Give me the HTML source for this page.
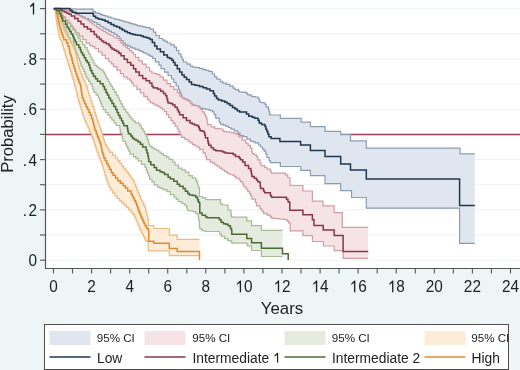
<!DOCTYPE html>
<html><head><meta charset="utf-8"><style>
html,body{margin:0;padding:0;}
body{width:520px;height:370px;overflow:hidden;background:#edf5f7;}
svg{display:block;}
.t{font-family:"Liberation Sans",sans-serif;font-size:16.5px;fill:#222;}
</style></head><body>
<svg width="520" height="370" viewBox="0 0 520 370">
<defs><filter id="b" x="-5%" y="-5%" width="110%" height="110%"><feGaussianBlur stdDeviation="0.45"/></filter></defs>
<rect x="0" y="0" width="520" height="370" fill="#edf5f7"/>
<rect x="45" y="0" width="475" height="268" fill="#ffffff"/>
<g filter="url(#b)">
<line x1="46" y1="260.2" x2="520" y2="260.2" stroke="#eef3f4" stroke-width="1"/>
<line x1="46" y1="235.0" x2="520" y2="235.0" stroke="#eef3f4" stroke-width="1"/>
<line x1="46" y1="209.9" x2="520" y2="209.9" stroke="#eef3f4" stroke-width="1"/>
<line x1="46" y1="184.7" x2="520" y2="184.7" stroke="#eef3f4" stroke-width="1"/>
<line x1="46" y1="159.6" x2="520" y2="159.6" stroke="#eef3f4" stroke-width="1"/>
<line x1="46" y1="134.4" x2="520" y2="134.4" stroke="#eef3f4" stroke-width="1"/>
<line x1="46" y1="109.2" x2="520" y2="109.2" stroke="#eef3f4" stroke-width="1"/>
<line x1="46" y1="84.1" x2="520" y2="84.1" stroke="#eef3f4" stroke-width="1"/>
<line x1="46" y1="58.9" x2="520" y2="58.9" stroke="#eef3f4" stroke-width="1"/>
<line x1="46" y1="33.8" x2="520" y2="33.8" stroke="#eef3f4" stroke-width="1"/>
<line x1="46" y1="8.6" x2="520" y2="8.6" stroke="#eef3f4" stroke-width="1"/>
<line x1="46" y1="134.4" x2="520" y2="134.4" stroke="#9e3d5c" stroke-width="1.5"/>
<path d="M54.0,8.5 54.0,8.5 56.6,8.5 56.6,8.5 59.2,8.5 59.2,8.5 61.9,8.5 61.9,8.6 64.5,8.6 64.5,8.6 67.1,8.6 67.1,8.6 69.7,8.6 69.7,8.6 69.7,8.9 73.5,8.9 73.5,9.2 93.1,9.2 93.1,10.5 93.1,11.6 95.4,11.6 95.4,12.6 95.4,12.9 97.7,12.9 97.7,13.4 100.0,13.4 100.0,13.7 100.0,14.3 102.4,14.3 102.4,14.9 102.4,15.3 105.2,15.3 105.2,16.2 108.1,16.2 108.1,16.7 108.1,17.1 111.0,17.1 111.0,18.0 113.9,18.0 113.9,18.4 113.9,18.8 116.6,18.8 116.6,19.5 119.3,19.5 119.3,19.9 119.3,20.2 121.6,20.2 121.6,20.9 123.8,20.9 123.8,21.6 126.1,21.6 126.1,21.9 126.1,22.2 128.3,22.2 128.3,22.9 130.6,22.9 130.6,23.6 132.8,23.6 132.8,23.9 132.8,24.2 135.1,24.2 135.1,24.9 137.3,24.9 137.3,25.6 139.6,25.6 139.6,25.9 139.6,26.1 141.9,26.1 141.9,26.6 144.1,26.6 144.1,27.1 146.4,27.1 146.4,27.3 146.4,27.7 150.0,27.7 150.0,28.1 150.0,29.2 153.5,29.2 153.5,30.4 153.5,32.1 155.8,32.1 155.8,33.8 155.8,35.5 159.2,35.5 159.2,37.3 159.2,38.5 162.7,38.5 162.7,39.6 162.7,40.2 165.0,40.2 165.0,41.3 167.3,41.3 167.3,41.9 167.3,43.0 170.8,43.0 170.8,44.2 170.8,44.8 174.2,44.8 174.2,45.4 174.2,47.1 176.5,47.1 176.5,48.8 176.5,50.5 178.8,50.5 178.8,52.3 178.8,54.0 181.1,54.0 181.1,55.8 181.1,57.0 182.3,57.0 182.3,59.5 183.5,59.5 183.5,60.8 183.5,62.0 186.9,62.0 186.9,63.1 186.9,64.2 190.4,64.2 190.4,65.4 190.4,66.2 192.7,66.2 192.7,67.1 192.7,67.2 195.0,67.2 195.0,67.4 197.3,67.4 197.3,67.6 199.6,67.6 199.6,67.7 199.6,68.6 203.1,68.6 203.1,69.4 203.1,69.7 205.9,69.7 205.9,70.3 208.8,70.3 208.8,70.6 208.8,71.4 212.3,71.4 212.3,72.3 212.3,74.0 214.6,74.0 214.6,75.8 214.6,76.9 216.9,76.9 216.9,78.1 216.9,79.2 220.4,79.2 220.4,80.4 220.4,81.6 222.7,81.6 222.7,82.7 222.7,83.2 226.1,83.2 226.1,83.8 226.1,84.4 229.6,84.4 229.6,85.0 229.6,86.2 233.1,86.2 233.1,87.3 233.1,88.2 235.0,88.2 235.0,89.0 235.0,89.6 238.5,89.6 238.5,90.2 238.5,91.1 239.6,91.1 239.6,91.9 239.6,92.0 241.9,92.0 241.9,92.2 244.2,92.2 244.2,92.4 246.5,92.4 246.5,92.5 246.5,93.3 247.7,93.3 247.7,94.2 247.7,94.8 251.1,94.8 251.1,95.4 251.1,96.0 252.3,96.0 252.3,96.5 252.3,96.7 255.2,96.7 255.2,97.0 258.1,97.0 258.1,97.1 258.1,98.5 259.2,98.5 259.2,100.0 259.2,101.2 260.4,101.2 260.4,102.3 260.4,102.5 262.7,102.5 262.7,102.8 265.0,102.8 265.0,102.9 265.0,104.3 266.1,104.3 266.1,105.8 266.1,106.9 268.4,106.9 268.4,108.1 268.4,109.2 269.0,109.2 269.0,111.6 269.6,111.6 269.6,112.7 269.6,113.8 270.2,113.8 270.2,115.0 280.3,115.0 280.3,118.4 301.2,118.4 301.2,122.2 310.4,122.2 310.4,126.6 325.0,126.6 325.0,131.4 340.7,131.4 340.7,134.7 350.5,134.7 350.5,140.8 366.3,140.8 366.3,148.1 460.0,148.1 460.0,153.9 474.8,153.9 474.8,243.4 474.8,243.4 459.6,243.4 459.6,208.2 366.3,208.2 366.3,197.5 351.5,197.5 351.5,190.6 340.7,190.6 340.7,183.7 325.0,183.7 325.0,175.6 310.4,175.6 310.4,170.3 300.8,170.3 300.8,166.5 280.3,166.5 280.3,162.7 270.4,162.7 270.4,160.9 269.2,160.9 269.2,159.2 269.2,157.5 266.9,157.5 266.9,155.8 266.9,154.1 265.8,154.1 265.8,152.3 265.8,151.2 264.1,151.2 264.1,149.1 262.5,149.1 262.5,148.0 262.5,147.0 260.5,147.0 260.5,145.0 258.5,145.0 258.5,144.0 258.5,142.9 255.0,142.9 255.0,141.9 255.0,141.6 252.7,141.6 252.7,141.1 250.4,141.1 250.4,140.8 250.4,139.1 246.9,139.1 246.9,137.3 246.9,136.7 243.4,136.7 243.4,136.1 243.4,135.6 240.0,135.6 240.0,135.0 240.0,133.2 237.7,133.2 237.7,131.5 237.7,130.9 234.2,130.9 234.2,130.4 234.2,129.2 230.8,129.2 230.8,128.1 230.8,127.5 228.4,127.5 228.4,126.4 226.1,126.4 226.1,125.8 226.1,125.2 223.2,125.2 223.2,124.1 220.4,124.1 220.4,123.5 220.4,121.8 219.2,121.8 219.2,120.0 219.2,118.2 215.7,118.2 215.7,116.3 215.7,114.7 214.1,114.7 214.1,113.1 214.1,111.9 212.4,111.9 212.4,110.7 212.4,110.3 209.2,110.3 209.2,109.4 206.0,109.4 206.0,109.0 206.0,108.8 203.2,108.8 203.2,108.4 200.3,108.4 200.3,108.2 200.3,107.0 198.7,107.0 198.7,105.8 198.7,105.6 195.4,105.6 195.4,105.2 192.2,105.2 192.2,105.0 192.2,103.3 190.5,103.3 190.5,101.7 190.5,101.1 188.5,101.1 188.5,99.9 186.5,99.9 186.5,99.3 186.5,98.9 184.4,98.9 184.4,98.1 182.4,98.1 182.4,97.7 182.4,96.3 181.3,96.3 181.3,93.4 180.2,93.4 180.2,92.0 180.2,90.9 179.3,90.9 179.3,88.8 178.4,88.8 178.4,87.7 178.4,86.0 176.1,86.0 176.1,84.2 176.1,82.5 173.8,82.5 173.8,80.8 173.8,79.0 171.5,79.0 171.5,77.3 171.5,75.5 168.1,75.5 168.1,73.8 168.1,72.1 164.6,72.1 164.6,70.4 164.6,68.7 161.1,68.7 161.1,66.9 161.1,65.2 158.8,65.2 158.8,63.5 158.8,61.8 155.4,61.8 155.4,60.0 155.4,58.5 152.7,58.5 152.7,56.9 152.7,56.3 150.4,56.3 150.4,55.2 148.1,55.2 148.1,54.6 148.1,54.0 145.8,54.0 145.8,52.9 143.4,52.9 143.4,52.3 143.4,51.7 141.1,51.7 141.1,50.6 138.8,50.6 138.8,50.0 138.8,49.4 135.0,49.4 135.0,48.8 135.0,48.2 132.5,48.2 132.5,47.1 130.0,47.1 130.0,46.5 130.0,45.9 127.7,45.9 127.7,44.8 125.3,44.8 125.3,44.3 125.3,43.1 123.2,43.1 123.2,40.7 121.0,40.7 121.0,39.5 121.0,38.4 119.0,38.4 119.0,36.3 117.0,36.3 117.0,35.2 117.0,34.4 114.2,34.4 114.2,32.6 111.4,32.6 111.4,31.8 111.4,31.1 108.6,31.1 108.6,29.7 105.8,29.7 105.8,29.0 105.8,28.2 102.9,28.2 102.9,26.5 100.0,26.5 100.0,25.7 100.0,24.4 97.0,24.4 97.0,23.0 97.0,22.5 94.3,22.5 94.3,22.0 94.3,21.5 92.0,21.5 92.0,21.0 92.0,20.0 88.5,20.0 88.5,19.0 88.5,18.5 85.0,18.5 85.0,18.0 85.0,17.1 81.6,17.1 81.6,16.1 81.6,15.6 79.3,15.6 79.3,14.5 77.0,14.5 77.0,14.0 77.0,12.9 73.5,12.9 73.5,11.8 73.5,11.4 71.4,11.4 71.4,11.1 71.4,9.8 70.0,9.8 70.0,8.6 70.0,8.6 67.3,8.6 67.3,8.6 64.7,8.6 64.7,8.6 62.0,8.6 62.0,8.5 59.3,8.5 59.3,8.5 56.7,8.5 56.7,8.5 54.0,8.5 54.0,8.5Z" fill="#e0e6ef"/>
<path d="M54.0,8.5 54.0,8.5 56.7,8.5 56.7,8.5 59.3,8.5 59.3,8.6 62.0,8.6 62.0,8.6 62.0,9.1 65.0,9.1 65.0,9.5 65.0,9.8 67.0,9.8 67.0,10.6 68.9,10.6 68.9,10.9 68.9,11.3 71.2,11.3 71.2,12.2 73.5,12.2 73.5,12.6 73.5,13.2 75.8,13.2 75.8,14.3 78.1,14.3 78.1,14.9 78.1,15.5 80.4,15.5 80.4,16.6 82.8,16.6 82.8,17.2 82.8,17.8 85.1,17.8 85.1,18.9 87.4,18.9 87.4,19.5 87.4,20.4 89.7,20.4 89.7,22.1 92.0,22.1 92.0,23.0 92.0,23.9 94.3,23.9 94.3,25.6 96.6,25.6 96.6,26.5 96.6,27.2 98.9,27.2 98.9,28.8 101.3,28.8 101.3,29.5 101.3,30.1 103.5,30.1 103.5,31.4 105.8,31.4 105.8,32.8 108.0,32.8 108.0,33.4 108.0,34.1 110.7,34.1 110.7,35.5 113.4,35.5 113.4,36.2 113.4,37.0 116.1,37.0 116.1,38.5 118.8,38.5 118.8,39.2 118.8,40.5 120.9,40.5 120.9,43.2 123.1,43.2 123.1,44.5 123.1,45.3 125.2,45.3 125.2,46.9 127.4,46.9 127.4,47.7 127.4,48.7 129.6,48.7 129.6,50.6 131.8,50.6 131.8,51.5 131.8,52.5 133.6,52.5 133.6,54.5 135.4,54.5 135.4,55.5 135.4,57.4 138.8,57.4 138.8,59.2 138.8,60.9 142.3,60.9 142.3,62.5 142.3,64.2 146.1,64.2 146.1,65.8 146.1,67.5 149.6,67.5 149.6,69.2 149.6,71.0 151.9,71.0 151.9,72.7 151.9,73.0 154.2,73.0 154.2,73.5 156.5,73.5 156.5,73.8 156.5,74.4 160.0,74.4 160.0,75.0 160.0,76.8 163.4,76.8 163.4,78.5 163.4,80.2 166.9,80.2 166.9,81.9 166.9,83.7 170.4,83.7 170.4,85.4 170.4,86.6 173.8,86.6 173.8,87.7 173.8,89.4 177.3,89.4 177.3,91.1 177.3,92.7 179.6,92.7 179.6,94.2 179.6,96.0 182.4,96.0 182.4,97.7 182.4,98.1 184.4,98.1 184.4,98.9 186.5,98.9 186.5,99.3 186.5,99.9 188.5,99.9 188.5,101.1 190.5,101.1 190.5,101.7 190.5,103.3 192.2,103.3 192.2,105.0 192.2,105.2 195.4,105.2 195.4,105.6 198.7,105.6 198.7,105.8 198.7,107.0 200.3,107.0 200.3,108.2 200.3,109.4 202.3,109.4 202.3,111.9 204.3,111.9 204.3,113.1 204.3,114.3 205.6,114.3 205.6,116.8 206.8,116.8 206.8,118.0 206.8,119.4 207.2,119.4 207.2,122.1 207.7,122.1 207.7,123.5 207.7,124.7 211.1,124.7 211.1,125.8 211.1,126.9 214.6,126.9 214.6,128.1 214.6,128.3 217.3,128.3 217.3,128.7 220.0,128.7 220.0,129.0 222.7,129.0 222.7,129.2 222.7,130.3 223.8,130.3 223.8,131.5 223.8,131.7 226.4,131.7 226.4,131.9 229.0,131.9 229.0,132.2 231.6,132.2 231.6,132.6 234.2,132.6 234.2,132.7 234.2,133.3 236.5,133.3 236.5,134.4 238.8,134.4 238.8,135.0 238.8,136.8 242.3,136.8 242.3,138.5 242.3,140.2 245.7,140.2 245.7,141.9 245.7,143.1 248.1,143.1 248.1,144.2 248.1,145.3 250.4,145.3 250.4,146.5 250.4,148.2 251.9,148.2 251.9,150.0 251.9,151.8 252.5,151.8 252.5,153.5 252.5,153.9 254.5,153.9 254.5,154.8 256.5,154.8 256.5,155.2 256.5,156.6 257.7,156.6 257.7,158.1 257.7,159.8 260.0,159.8 260.0,161.5 260.0,163.2 261.1,163.2 261.1,165.0 261.1,165.6 264.6,165.6 264.6,166.1 264.6,167.3 266.9,167.3 266.9,168.5 266.9,169.1 270.4,169.1 270.4,169.6 270.4,171.3 271.5,171.3 271.5,173.1 285.4,173.1 285.4,173.4 285.4,174.9 287.7,174.9 287.7,176.5 287.7,177.5 290.0,177.5 290.0,178.5 290.0,185.5 302.9,185.5 302.9,191.0 312.4,191.0 312.4,201.2 323.0,201.2 323.0,205.8 334.2,205.8 334.2,212.7 342.3,212.7 342.3,227.3 368.2,227.3 368.2,258.4 368.2,258.4 343.1,258.4 343.1,250.7 334.2,250.7 334.2,246.0 323.4,246.0 323.4,241.5 312.4,241.5 312.4,235.6 302.9,235.6 302.9,230.9 290.2,230.9 290.2,222.8 288.6,222.8 288.6,221.2 287.0,221.2 287.0,219.6 287.0,219.5 284.4,219.5 284.4,219.2 281.8,219.2 281.8,219.0 279.2,219.0 279.2,218.7 276.7,218.7 276.7,218.5 274.1,218.5 274.1,218.2 271.5,218.2 271.5,218.1 271.5,216.9 270.4,216.9 270.4,215.8 270.4,215.2 266.9,215.2 266.9,214.6 266.9,213.4 263.5,213.4 263.5,212.3 263.5,211.2 261.8,211.2 261.8,208.8 260.0,208.8 260.0,207.7 260.0,205.9 256.5,205.9 256.5,204.2 256.5,202.5 255.4,202.5 255.4,200.8 255.4,199.1 251.9,199.1 251.9,197.3 251.9,196.2 250.8,196.2 250.8,193.8 249.6,193.8 249.6,192.7 249.6,191.6 247.8,191.6 247.8,189.2 246.1,189.2 246.1,188.1 246.1,186.9 243.8,186.9 243.8,185.8 243.8,184.1 242.7,184.1 242.7,182.3 242.7,181.7 240.4,181.7 240.4,181.1 240.4,179.9 239.2,179.9 239.2,178.8 239.2,178.2 235.8,178.2 235.8,177.7 235.8,176.6 234.6,176.6 234.6,175.4 234.6,175.1 232.3,175.1 232.3,174.5 230.0,174.5 230.0,174.2 230.0,173.3 227.3,173.3 227.3,171.6 224.7,171.6 224.7,169.9 222.0,169.9 222.0,169.0 222.0,168.2 219.7,168.2 219.7,166.5 217.3,166.5 217.3,164.8 215.0,164.8 215.0,164.0 215.0,163.2 212.5,163.2 212.5,161.8 210.0,161.8 210.0,161.0 210.0,159.6 206.5,159.6 206.5,158.1 206.5,156.3 205.4,156.3 205.4,154.6 205.4,152.8 203.1,152.8 203.1,151.1 203.1,149.4 199.6,149.4 199.6,147.7 199.6,147.1 197.3,147.1 197.3,146.0 195.0,146.0 195.0,145.4 195.0,144.6 192.7,144.6 192.7,142.9 190.4,142.9 190.4,141.3 188.1,141.3 188.1,140.5 188.1,139.4 184.8,139.4 184.8,137.3 181.6,137.3 181.6,136.2 181.6,134.8 180.2,134.8 180.2,131.9 178.7,131.9 178.7,129.0 177.3,129.0 177.3,127.6 177.3,126.1 175.1,126.1 175.1,123.2 173.0,123.2 173.0,120.4 170.8,120.4 170.8,118.9 170.8,117.5 168.6,117.5 168.6,114.6 166.5,114.6 166.5,111.7 164.3,111.7 164.3,110.3 164.3,109.5 162.2,109.5 162.2,107.8 160.0,107.8 160.0,107.0 160.0,106.4 157.5,106.4 157.5,105.1 155.0,105.1 155.0,104.5 155.0,103.9 152.8,103.9 152.8,102.6 150.5,102.6 150.5,102.0 150.5,101.0 148.9,101.0 148.9,99.1 147.3,99.1 147.3,98.1 147.3,96.3 143.8,96.3 143.8,94.6 143.8,92.8 140.4,92.8 140.4,91.1 140.4,89.4 136.9,89.4 136.9,87.7 136.9,86.0 133.5,86.0 133.5,84.2 133.5,83.1 131.8,83.1 131.8,80.8 130.0,80.8 130.0,79.6 130.0,78.8 127.0,78.8 127.0,78.0 127.0,76.8 123.5,76.8 123.5,75.5 123.5,73.7 120.4,73.7 120.4,71.9 120.4,70.2 116.9,70.2 116.9,68.4 116.9,66.7 113.5,66.7 113.5,65.0 113.5,63.9 111.1,63.9 111.1,62.7 111.1,61.5 108.8,61.5 108.8,60.4 108.8,58.6 105.4,58.6 105.4,56.9 105.4,55.2 101.9,55.2 101.9,53.5 101.9,51.8 98.5,51.8 98.5,50.0 98.5,48.6 95.0,48.6 95.0,47.2 95.0,46.6 92.5,46.6 92.5,46.0 92.5,45.5 89.7,45.5 89.7,44.9 89.7,43.1 86.2,43.1 86.2,41.4 86.2,39.7 82.8,39.7 82.8,38.0 82.8,36.2 79.3,36.2 79.3,34.5 79.3,32.8 75.8,32.8 75.8,31.1 75.8,29.9 74.1,29.9 74.1,27.6 72.4,27.6 72.4,26.5 72.4,25.3 70.7,25.3 70.7,23.0 68.9,23.0 68.9,21.8 68.9,20.1 65.5,20.1 65.5,18.4 65.5,16.9 62.5,16.9 62.5,15.5 62.5,14.0 60.5,14.0 60.5,12.5 60.5,11.0 58.0,11.0 58.0,9.5 58.0,9.2 56.0,9.2 56.0,8.8 54.0,8.8 54.0,8.5Z" fill="#f6e3e5"/>
<path d="M54.0,8.5 54.0,8.8 56.0,8.8 56.0,9.2 58.0,9.2 58.0,9.5 58.0,10.8 61.0,10.8 61.0,12.0 61.0,13.1 62.1,13.1 62.1,15.4 63.2,15.4 63.2,16.5 63.2,17.7 65.3,17.7 65.3,20.0 67.4,20.0 67.4,21.2 67.4,23.1 70.5,23.1 70.5,25.0 70.5,26.6 72.8,26.6 72.8,28.1 72.8,29.6 75.1,29.6 75.1,31.2 75.1,32.4 76.6,32.4 76.6,33.5 76.6,35.0 78.2,35.0 78.2,36.5 78.2,38.2 80.3,38.2 80.3,40.0 80.3,41.5 82.6,41.5 82.6,43.1 82.6,44.7 84.9,44.7 84.9,46.2 84.9,47.7 87.2,47.7 87.2,49.2 87.2,50.8 88.8,50.8 88.8,52.3 88.8,53.8 90.3,53.8 90.3,55.4 90.3,57.0 91.8,57.0 91.8,58.5 91.8,60.0 93.4,60.0 93.4,61.5 93.4,63.0 94.9,63.0 94.9,64.6 94.9,65.4 97.0,65.4 97.0,67.1 99.0,67.1 99.0,68.0 99.0,68.8 101.1,68.8 101.1,70.2 103.2,70.2 103.2,71.0 103.2,72.2 104.5,72.2 104.5,74.5 105.7,74.5 105.7,76.8 107.0,76.8 107.0,78.0 107.0,79.2 108.4,79.2 108.4,81.5 109.7,81.5 109.7,83.8 111.1,83.8 111.1,85.0 111.1,86.4 112.8,86.4 112.8,89.3 114.6,89.3 114.6,92.2 116.3,92.2 116.3,95.1 118.1,95.1 118.1,96.5 118.1,98.0 119.5,98.0 119.5,100.8 120.9,100.8 120.9,103.8 122.4,103.8 122.4,106.7 123.8,106.7 123.8,108.1 123.8,109.4 125.9,109.4 125.9,112.1 128.0,112.1 128.0,113.5 128.0,114.6 129.5,114.6 129.5,116.9 131.0,116.9 131.0,118.0 131.0,119.0 133.0,119.0 133.0,120.0 133.0,121.2 135.4,121.2 135.4,122.3 135.4,122.9 138.8,122.9 138.8,123.5 138.8,124.0 140.0,124.0 140.0,124.6 140.0,125.9 141.5,125.9 141.5,128.6 143.0,128.6 143.0,130.0 143.0,131.2 144.6,131.2 144.6,133.8 146.1,133.8 146.1,135.0 146.1,136.4 147.2,136.4 147.2,139.3 148.4,139.3 148.4,140.8 148.4,142.0 149.0,142.0 149.0,144.2 149.6,144.2 149.6,145.4 149.6,146.2 151.9,146.2 151.9,147.9 154.2,147.9 154.2,148.8 154.2,149.4 156.5,149.4 156.5,150.5 158.8,150.5 158.8,151.1 158.8,152.0 161.1,152.0 161.1,153.7 163.4,153.7 163.4,154.6 163.4,155.5 166.3,155.5 166.3,157.2 169.2,157.2 169.2,158.1 169.2,159.3 172.7,159.3 172.7,160.6 172.7,162.1 175.0,162.1 175.0,163.5 175.0,165.2 178.4,165.2 178.4,166.9 178.4,168.1 181.9,168.1 181.9,169.2 181.9,169.8 185.4,169.8 185.4,170.4 185.4,172.1 188.8,172.1 188.8,173.8 188.8,175.6 192.3,175.6 192.3,177.3 192.3,177.9 195.7,177.9 195.7,178.5 195.7,179.6 196.6,179.6 196.6,181.9 197.5,181.9 197.5,183.0 197.5,184.2 198.2,184.2 198.2,186.8 199.0,186.8 199.0,188.0 199.5,188.0 199.5,196.0 199.5,196.5 202.2,196.5 202.2,197.6 205.0,197.6 205.0,198.1 205.6,198.1 205.6,199.6 220.4,199.6 220.4,202.7 220.4,203.8 222.3,203.8 222.3,205.0 228.1,205.0 228.1,208.5 228.1,210.2 230.9,210.2 230.9,211.9 230.9,213.1 231.2,213.1 231.2,215.4 231.5,215.4 231.5,216.5 231.8,216.5 231.8,217.2 246.8,217.2 246.8,220.8 251.6,220.8 251.6,225.6 261.4,225.6 261.4,230.3 282.5,230.3 282.5,256.5 282.5,256.5 261.4,256.5 261.4,250.5 251.6,250.5 251.6,245.8 247.1,245.8 247.1,243.1 232.0,243.1 232.0,241.8 231.1,241.8 231.1,240.7 227.9,240.7 227.9,239.6 227.9,238.6 224.6,238.6 224.6,237.5 224.6,236.4 221.4,236.4 221.4,235.3 221.4,234.2 219.6,234.2 219.6,233.0 219.6,231.5 205.2,231.5 205.2,230.7 201.9,230.7 201.9,229.9 201.9,228.8 199.7,228.8 199.7,227.7 199.7,226.6 199.5,226.6 199.5,224.4 199.4,224.4 199.4,222.2 199.2,222.2 199.2,221.1 199.2,219.7 198.6,219.7 198.6,216.8 198.1,216.8 198.1,215.4 198.1,213.7 195.8,213.7 195.8,211.9 195.8,211.6 193.1,211.6 193.1,211.0 190.4,211.0 190.4,210.5 187.7,210.5 187.7,210.2 187.7,209.2 187.1,209.2 187.1,207.1 186.5,207.1 186.5,206.1 186.5,205.2 184.2,205.2 184.2,203.5 181.9,203.5 181.9,202.7 181.9,201.6 178.5,201.6 178.5,200.4 178.5,199.3 176.2,199.3 176.2,197.1 174.0,197.1 174.0,196.0 174.0,194.7 170.4,194.7 170.4,193.4 170.4,191.7 166.9,191.7 166.9,190.0 166.9,189.7 164.6,189.7 164.6,189.1 162.3,189.1 162.3,188.8 162.3,188.2 160.0,188.2 160.0,187.1 157.7,187.1 157.7,186.5 157.7,184.8 154.2,184.8 154.2,183.1 154.2,181.9 151.9,181.9 151.9,180.8 151.9,179.1 149.6,179.1 149.6,177.3 149.6,175.8 148.4,175.8 148.4,172.9 147.3,172.9 147.3,171.5 147.3,170.1 146.2,170.1 146.2,167.4 145.0,167.4 145.0,166.0 145.0,164.3 141.5,164.3 141.5,162.7 141.5,160.9 138.1,160.9 138.1,159.2 138.1,158.3 135.8,158.3 135.8,156.7 133.5,156.7 133.5,155.8 133.5,154.1 130.0,154.1 130.0,152.3 130.0,151.2 128.8,151.2 128.8,148.8 127.7,148.8 127.7,147.7 127.7,146.6 126.6,146.6 126.6,144.2 125.4,144.2 125.4,143.1 125.4,141.3 123.0,141.3 123.0,139.6 123.0,138.4 122.5,138.4 122.5,136.2 122.0,136.2 122.0,135.0 122.0,133.2 120.4,133.2 120.4,131.5 120.4,130.4 120.1,130.4 120.1,128.1 119.8,128.1 119.8,126.9 119.8,125.5 116.0,125.5 116.0,124.0 116.0,122.8 114.0,122.8 114.0,120.2 112.0,120.2 112.0,119.0 112.0,117.8 110.0,117.8 110.0,115.2 108.0,115.2 108.0,114.0 108.0,112.5 105.5,112.5 105.5,109.6 103.1,109.6 103.1,108.1 103.1,106.7 101.9,106.7 101.9,103.8 100.8,103.8 100.8,100.8 99.6,100.8 99.6,98.0 98.4,98.0 98.4,96.5 98.4,95.1 96.1,95.1 96.1,92.2 93.8,92.2 93.8,90.8 93.8,89.3 92.9,89.3 92.9,86.5 92.1,86.5 92.1,85.0 92.1,83.8 90.3,83.8 90.3,81.4 88.6,81.4 88.6,79.0 86.8,79.0 86.8,77.8 86.8,76.5 85.8,76.5 85.8,73.9 84.8,73.9 84.8,71.3 83.8,71.3 83.8,70.0 83.8,68.8 82.4,68.8 82.4,66.2 81.1,66.2 81.1,65.0 81.1,63.8 80.3,63.8 80.3,61.2 79.5,61.2 79.5,60.0 79.5,58.1 78.0,58.1 78.0,56.2 78.0,55.2 77.2,55.2 77.2,53.3 76.5,53.3 76.5,52.3 76.5,51.1 75.7,51.1 75.7,48.9 74.9,48.9 74.9,47.7 74.9,46.5 74.2,46.5 74.2,44.2 73.4,44.2 73.4,43.1 73.4,41.5 70.5,41.5 70.5,40.0 70.5,38.2 68.5,38.2 68.5,36.5 68.5,35.3 67.7,35.3 67.7,33.0 66.8,33.0 66.8,31.9 66.8,30.8 65.8,30.8 65.8,28.4 64.8,28.4 64.8,27.3 64.8,26.2 63.8,26.2 63.8,23.9 62.8,23.9 62.8,22.7 62.8,20.9 61.1,20.9 61.1,19.0 61.1,17.2 59.3,17.2 59.3,15.4 59.3,14.3 58.5,14.3 58.5,12.2 57.6,12.2 57.6,11.1 57.6,10.6 56.0,10.6 56.0,10.0 56.0,9.2 54.0,9.2 54.0,8.5Z" fill="#e5ebdf"/>
<path d="M54.0,8.5 54.0,8.9 56.0,8.9 56.0,9.6 58.0,9.6 58.0,10.0 58.0,11.2 58.9,11.2 58.9,13.8 59.7,13.8 59.7,15.0 59.7,16.1 60.2,16.1 60.2,18.4 60.8,18.4 60.8,19.6 60.8,20.8 61.4,20.8 61.4,23.0 62.0,23.0 62.0,24.2 62.0,25.4 62.8,25.4 62.8,27.7 63.5,27.7 63.5,28.8 63.5,29.9 64.5,29.9 64.5,32.0 65.5,32.0 65.5,33.0 65.5,34.0 66.8,34.0 66.8,36.0 68.0,36.0 68.0,37.0 68.0,38.0 69.2,38.0 69.2,40.0 70.5,40.0 70.5,41.0 70.5,42.0 71.5,42.0 71.5,44.0 72.5,44.0 72.5,45.0 72.5,46.0 73.5,46.0 73.5,48.1 74.5,48.1 74.5,49.2 74.5,50.4 75.1,50.4 75.1,52.6 75.7,52.6 75.7,53.8 75.7,55.1 76.5,55.1 76.5,57.9 77.2,57.9 77.2,59.2 77.2,60.7 77.8,60.7 77.8,63.6 78.4,63.6 78.4,65.0 78.4,66.2 79.2,66.2 79.2,68.8 80.0,68.8 80.0,70.0 80.0,71.2 81.0,71.2 81.0,73.8 82.0,73.8 82.0,76.2 83.0,76.2 83.0,77.5 83.0,78.8 84.1,78.8 84.1,81.2 85.2,81.2 85.2,83.8 86.3,83.8 86.3,85.0 86.3,86.4 87.2,86.4 87.2,89.3 88.0,89.3 88.0,92.2 88.9,92.2 88.9,95.1 89.8,95.1 89.8,96.5 89.8,98.0 90.8,98.0 90.8,100.8 91.8,100.8 91.8,103.8 92.8,103.8 92.8,106.7 93.8,106.7 93.8,108.1 93.8,109.5 94.7,109.5 94.7,112.4 95.5,112.4 95.5,115.3 96.4,115.3 96.4,118.2 97.3,118.2 97.3,119.6 97.3,120.8 98.2,120.8 98.2,123.3 99.0,123.3 99.0,124.6 99.0,125.8 99.9,125.8 99.9,128.1 100.8,128.1 100.8,129.2 100.8,130.6 101.7,130.6 101.7,133.5 102.5,133.5 102.5,135.0 102.5,136.4 103.3,136.4 103.3,139.3 104.2,139.3 104.2,140.8 104.2,142.1 105.3,142.1 105.3,144.7 106.5,144.7 106.5,146.0 106.5,147.2 108.0,147.2 108.0,149.6 109.5,149.6 109.5,150.8 109.5,152.2 112.5,152.2 112.5,155.1 115.4,155.1 115.4,156.5 115.4,157.9 117.7,157.9 117.7,160.8 120.0,160.8 120.0,162.3 120.0,163.5 121.7,163.5 121.7,165.8 123.4,165.8 123.4,166.9 123.4,168.1 125.2,168.1 125.2,170.4 126.9,170.4 126.9,171.5 126.9,172.7 128.7,172.7 128.7,174.9 130.4,174.9 130.4,176.1 130.4,177.3 132.1,177.3 132.1,179.6 133.8,179.6 133.8,180.8 133.8,182.1 134.8,182.1 134.8,184.6 135.8,184.6 135.8,185.8 135.8,187.2 136.9,187.2 136.9,190.1 138.1,190.1 138.1,191.5 138.1,192.9 139.2,192.9 139.2,195.8 140.4,195.8 140.4,197.3 140.4,198.5 141.6,198.5 141.6,200.8 142.7,200.8 142.7,201.9 142.7,203.1 143.8,203.1 143.8,205.4 145.0,205.4 145.0,206.5 145.0,207.7 145.6,207.7 145.6,209.9 146.1,209.9 146.1,211.1 146.1,212.3 146.7,212.3 146.7,214.6 147.3,214.6 147.3,215.8 147.3,216.9 147.8,216.9 147.8,219.0 148.3,219.0 148.3,220.0 148.3,225.5 153.7,225.5 153.7,228.5 169.3,228.5 169.3,235.2 177.2,235.2 177.2,239.3 199.5,239.3 199.5,255.7 199.5,255.7 169.3,255.7 169.3,250.8 148.3,250.8 148.3,242.0 147.7,242.0 147.7,240.9 145.6,240.9 145.6,239.9 145.6,238.8 144.5,238.8 144.5,236.7 143.4,236.7 143.4,235.6 143.4,234.5 142.3,234.5 142.3,232.3 141.2,232.3 141.2,231.2 141.2,230.1 140.1,230.1 140.1,228.0 139.1,228.0 139.1,226.9 139.1,225.4 138.0,225.4 138.0,222.5 136.9,222.5 136.9,221.0 136.9,219.7 135.8,219.7 135.8,217.1 134.6,217.1 134.6,215.8 134.6,214.6 132.8,214.6 132.8,212.3 131.1,212.3 131.1,211.1 131.1,209.9 128.8,209.9 128.8,207.7 126.5,207.7 126.5,206.5 126.5,205.4 124.2,205.4 124.2,203.1 121.9,203.1 121.9,201.9 121.9,200.8 119.6,200.8 119.6,198.5 117.3,198.5 117.3,197.3 117.3,195.8 115.0,195.8 115.0,192.9 112.7,192.9 112.7,191.5 112.7,190.1 110.8,190.1 110.8,187.2 109.0,187.2 109.0,185.8 109.0,184.2 107.8,184.2 107.8,181.2 106.7,181.2 106.7,179.6 106.7,178.1 105.8,178.1 105.8,175.2 105.0,175.2 105.0,173.8 105.0,172.4 104.2,172.4 104.2,169.5 103.3,169.5 103.3,168.1 103.3,166.6 102.4,166.6 102.4,163.8 101.5,163.8 101.5,162.3 101.5,160.8 100.3,160.8 100.3,157.9 99.2,157.9 99.2,156.5 99.2,155.1 98.1,155.1 98.1,152.2 96.9,152.2 96.9,150.8 96.9,149.6 96.2,149.6 96.2,147.2 95.5,147.2 95.5,146.0 95.5,144.7 94.7,144.7 94.7,142.1 93.8,142.1 93.8,140.8 93.8,139.3 92.7,139.3 92.7,136.4 91.5,136.4 91.5,135.0 91.5,133.5 90.3,133.5 90.3,130.6 89.2,130.6 89.2,129.2 89.2,128.1 88.1,128.1 88.1,125.8 86.9,125.8 86.9,124.6 86.9,123.3 85.8,123.3 85.8,120.8 84.6,120.8 84.6,119.6 84.6,118.2 83.7,118.2 83.7,115.3 82.8,115.3 82.8,112.4 82.0,112.4 82.0,109.5 81.1,109.5 81.1,108.1 81.1,106.7 80.2,106.7 80.2,103.8 79.4,103.8 79.4,100.8 78.5,100.8 78.5,98.0 77.7,98.0 77.7,96.5 77.7,95.1 77.0,95.1 77.0,92.2 76.2,92.2 76.2,89.3 75.5,89.3 75.5,86.4 74.8,86.4 74.8,85.0 74.8,83.8 74.1,83.8 74.1,81.5 73.5,81.5 73.5,79.2 72.8,79.2 72.8,78.0 72.8,76.7 72.0,76.7 72.0,74.0 71.3,74.0 71.3,71.3 70.5,71.3 70.5,70.0 70.5,68.8 69.7,68.8 69.7,66.2 68.8,66.2 68.8,65.0 68.8,63.8 68.0,63.8 68.0,61.2 67.2,61.2 67.2,60.0 67.2,58.8 66.5,58.8 66.5,56.5 65.7,56.5 65.7,55.4 65.7,54.0 65.0,54.0 65.0,51.4 64.2,51.4 64.2,50.0 64.2,48.7 63.4,48.7 63.4,46.0 62.6,46.0 62.6,44.6 62.6,43.5 61.9,43.5 61.9,41.1 61.1,41.1 61.1,40.0 61.1,39.0 59.7,39.0 59.7,38.1 59.7,37.0 59.3,37.0 59.3,34.6 58.9,34.6 58.9,33.5 58.9,32.3 58.3,32.3 58.3,30.0 57.8,30.0 57.8,28.8 57.8,27.7 57.4,27.7 57.4,25.4 57.0,25.4 57.0,24.2 57.0,23.0 56.6,23.0 56.6,20.8 56.2,20.8 56.2,19.6 56.2,18.4 56.0,18.4 56.0,16.1 55.8,16.1 55.8,15.0 55.8,13.8 55.5,13.8 55.5,11.4 55.2,11.4 55.2,10.2 55.2,9.3 54.0,9.3 54.0,8.5Z" fill="#fdecd8"/>
<path d="M54.0,8.5 54.0,8.5 56.6,8.5 56.6,8.5 59.2,8.5 59.2,8.5 61.9,8.5 61.9,8.6 64.5,8.6 64.5,8.6 67.1,8.6 67.1,8.6 69.7,8.6 69.7,8.6 69.7,8.9 73.5,8.9 73.5,9.2 93.1,9.2 93.1,10.5 93.1,11.6 95.4,11.6 95.4,12.6 95.4,12.9 97.7,12.9 97.7,13.4 100.0,13.4 100.0,13.7 100.0,14.3 102.4,14.3 102.4,14.9 102.4,15.3 105.2,15.3 105.2,16.2 108.1,16.2 108.1,16.7 108.1,17.1 111.0,17.1 111.0,18.0 113.9,18.0 113.9,18.4 113.9,18.8 116.6,18.8 116.6,19.5 119.3,19.5 119.3,19.9 119.3,20.2 121.6,20.2 121.6,20.9 123.8,20.9 123.8,21.6 126.1,21.6 126.1,21.9 126.1,22.2 128.3,22.2 128.3,22.9 130.6,22.9 130.6,23.6 132.8,23.6 132.8,23.9 132.8,24.2 135.1,24.2 135.1,24.9 137.3,24.9 137.3,25.6 139.6,25.6 139.6,25.9 139.6,26.1 141.9,26.1 141.9,26.6 144.1,26.6 144.1,27.1 146.4,27.1 146.4,27.3 146.4,27.7 150.0,27.7 150.0,28.1 150.0,29.2 153.5,29.2 153.5,30.4 153.5,32.1 155.8,32.1 155.8,33.8 155.8,35.5 159.2,35.5 159.2,37.3 159.2,38.5 162.7,38.5 162.7,39.6 162.7,40.2 165.0,40.2 165.0,41.3 167.3,41.3 167.3,41.9 167.3,43.0 170.8,43.0 170.8,44.2 170.8,44.8 174.2,44.8 174.2,45.4 174.2,47.1 176.5,47.1 176.5,48.8 176.5,50.5 178.8,50.5 178.8,52.3 178.8,54.0 181.1,54.0 181.1,55.8 181.1,57.0 182.3,57.0 182.3,59.5 183.5,59.5 183.5,60.8 183.5,62.0 186.9,62.0 186.9,63.1 186.9,64.2 190.4,64.2 190.4,65.4 190.4,66.2 192.7,66.2 192.7,67.1 192.7,67.2 195.0,67.2 195.0,67.4 197.3,67.4 197.3,67.6 199.6,67.6 199.6,67.7 199.6,68.6 203.1,68.6 203.1,69.4 203.1,69.7 205.9,69.7 205.9,70.3 208.8,70.3 208.8,70.6 208.8,71.4 212.3,71.4 212.3,72.3 212.3,74.0 214.6,74.0 214.6,75.8 214.6,76.9 216.9,76.9 216.9,78.1 216.9,79.2 220.4,79.2 220.4,80.4 220.4,81.6 222.7,81.6 222.7,82.7 222.7,83.2 226.1,83.2 226.1,83.8 226.1,84.4 229.6,84.4 229.6,85.0 229.6,86.2 233.1,86.2 233.1,87.3 233.1,88.2 235.0,88.2 235.0,89.0 235.0,89.6 238.5,89.6 238.5,90.2 238.5,91.1 239.6,91.1 239.6,91.9 239.6,92.0 241.9,92.0 241.9,92.2 244.2,92.2 244.2,92.4 246.5,92.4 246.5,92.5 246.5,93.3 247.7,93.3 247.7,94.2 247.7,94.8 251.1,94.8 251.1,95.4 251.1,96.0 252.3,96.0 252.3,96.5 252.3,96.7 255.2,96.7 255.2,97.0 258.1,97.0 258.1,97.1 258.1,98.5 259.2,98.5 259.2,100.0 259.2,101.2 260.4,101.2 260.4,102.3 260.4,102.5 262.7,102.5 262.7,102.8 265.0,102.8 265.0,102.9 265.0,104.3 266.1,104.3 266.1,105.8 266.1,106.9 268.4,106.9 268.4,108.1 268.4,109.2 269.0,109.2 269.0,111.6 269.6,111.6 269.6,112.7 269.6,113.8 270.2,113.8 270.2,115.0 280.3,115.0 280.3,118.4 301.2,118.4 301.2,122.2 310.4,122.2 310.4,126.6 325.0,126.6 325.0,131.4 340.7,131.4 340.7,134.7 350.5,134.7 350.5,140.8 366.3,140.8 366.3,148.1 460.0,148.1 460.0,153.9 474.8,153.9" fill="none" stroke="#8d9db1" stroke-width="1.2"/>
<path d="M54.0,8.5 54.0,8.5 56.7,8.5 56.7,8.5 59.3,8.5 59.3,8.5 62.0,8.5 62.0,8.6 64.7,8.6 64.7,8.6 67.3,8.6 67.3,8.6 70.0,8.6 70.0,8.6 70.0,9.8 71.4,9.8 71.4,11.1 71.4,11.4 73.5,11.4 73.5,11.8 73.5,12.9 77.0,12.9 77.0,14.0 77.0,14.5 79.3,14.5 79.3,15.6 81.6,15.6 81.6,16.1 81.6,17.1 85.0,17.1 85.0,18.0 85.0,18.5 88.5,18.5 88.5,19.0 88.5,20.0 92.0,20.0 92.0,21.0 92.0,21.5 94.3,21.5 94.3,22.0 94.3,22.5 97.0,22.5 97.0,23.0 97.0,24.4 100.0,24.4 100.0,25.7 100.0,26.5 102.9,26.5 102.9,28.2 105.8,28.2 105.8,29.0 105.8,29.7 108.6,29.7 108.6,31.1 111.4,31.1 111.4,31.8 111.4,32.6 114.2,32.6 114.2,34.4 117.0,34.4 117.0,35.2 117.0,36.3 119.0,36.3 119.0,38.4 121.0,38.4 121.0,39.5 121.0,40.7 123.2,40.7 123.2,43.1 125.3,43.1 125.3,44.3 125.3,44.8 127.7,44.8 127.7,45.9 130.0,45.9 130.0,46.5 130.0,47.1 132.5,47.1 132.5,48.2 135.0,48.2 135.0,48.8 135.0,49.4 138.8,49.4 138.8,50.0 138.8,50.6 141.1,50.6 141.1,51.7 143.4,51.7 143.4,52.3 143.4,52.9 145.8,52.9 145.8,54.0 148.1,54.0 148.1,54.6 148.1,55.2 150.4,55.2 150.4,56.3 152.7,56.3 152.7,56.9 152.7,58.5 155.4,58.5 155.4,60.0 155.4,61.8 158.8,61.8 158.8,63.5 158.8,65.2 161.1,65.2 161.1,66.9 161.1,68.7 164.6,68.7 164.6,70.4 164.6,72.1 168.1,72.1 168.1,73.8 168.1,75.5 171.5,75.5 171.5,77.3 171.5,79.0 173.8,79.0 173.8,80.8 173.8,82.5 176.1,82.5 176.1,84.2 176.1,86.0 178.4,86.0 178.4,87.7 178.4,88.8 179.3,88.8 179.3,90.9 180.2,90.9 180.2,92.0 180.2,93.4 181.3,93.4 181.3,96.3 182.4,96.3 182.4,97.7 182.4,98.1 184.4,98.1 184.4,98.9 186.5,98.9 186.5,99.3 186.5,99.9 188.5,99.9 188.5,101.1 190.5,101.1 190.5,101.7 190.5,103.3 192.2,103.3 192.2,105.0 192.2,105.2 195.4,105.2 195.4,105.6 198.7,105.6 198.7,105.8 198.7,107.0 200.3,107.0 200.3,108.2 200.3,108.4 203.2,108.4 203.2,108.8 206.0,108.8 206.0,109.0 206.0,109.4 209.2,109.4 209.2,110.3 212.4,110.3 212.4,110.7 212.4,111.9 214.1,111.9 214.1,113.1 214.1,114.7 215.7,114.7 215.7,116.3 215.7,118.2 219.2,118.2 219.2,120.0 219.2,121.8 220.4,121.8 220.4,123.5 220.4,124.1 223.2,124.1 223.2,125.2 226.1,125.2 226.1,125.8 226.1,126.4 228.4,126.4 228.4,127.5 230.8,127.5 230.8,128.1 230.8,129.2 234.2,129.2 234.2,130.4 234.2,130.9 237.7,130.9 237.7,131.5 237.7,133.2 240.0,133.2 240.0,135.0 240.0,135.6 243.4,135.6 243.4,136.1 243.4,136.7 246.9,136.7 246.9,137.3 246.9,139.1 250.4,139.1 250.4,140.8 250.4,141.1 252.7,141.1 252.7,141.6 255.0,141.6 255.0,141.9 255.0,142.9 258.5,142.9 258.5,144.0 258.5,145.0 260.5,145.0 260.5,147.0 262.5,147.0 262.5,148.0 262.5,149.1 264.1,149.1 264.1,151.2 265.8,151.2 265.8,152.3 265.8,154.1 266.9,154.1 266.9,155.8 266.9,157.5 269.2,157.5 269.2,159.2 269.2,160.9 270.4,160.9 270.4,162.7 280.3,162.7 280.3,166.5 300.8,166.5 300.8,170.3 310.4,170.3 310.4,175.6 325.0,175.6 325.0,183.7 340.7,183.7 340.7,190.6 351.5,190.6 351.5,197.5 366.3,197.5 366.3,208.2 459.6,208.2 459.6,243.4 474.8,243.4" fill="none" stroke="#8d9db1" stroke-width="1.2"/>
<path d="M54.0,8.5 54.0,8.5 56.7,8.5 56.7,8.5 59.3,8.5 59.3,8.6 62.0,8.6 62.0,8.6 62.0,9.1 65.0,9.1 65.0,9.5 65.0,9.8 67.0,9.8 67.0,10.6 68.9,10.6 68.9,10.9 68.9,11.3 71.2,11.3 71.2,12.2 73.5,12.2 73.5,12.6 73.5,13.2 75.8,13.2 75.8,14.3 78.1,14.3 78.1,14.9 78.1,15.5 80.4,15.5 80.4,16.6 82.8,16.6 82.8,17.2 82.8,17.8 85.1,17.8 85.1,18.9 87.4,18.9 87.4,19.5 87.4,20.4 89.7,20.4 89.7,22.1 92.0,22.1 92.0,23.0 92.0,23.9 94.3,23.9 94.3,25.6 96.6,25.6 96.6,26.5 96.6,27.2 98.9,27.2 98.9,28.8 101.3,28.8 101.3,29.5 101.3,30.1 103.5,30.1 103.5,31.4 105.8,31.4 105.8,32.8 108.0,32.8 108.0,33.4 108.0,34.1 110.7,34.1 110.7,35.5 113.4,35.5 113.4,36.2 113.4,37.0 116.1,37.0 116.1,38.5 118.8,38.5 118.8,39.2 118.8,40.5 120.9,40.5 120.9,43.2 123.1,43.2 123.1,44.5 123.1,45.3 125.2,45.3 125.2,46.9 127.4,46.9 127.4,47.7 127.4,48.7 129.6,48.7 129.6,50.6 131.8,50.6 131.8,51.5 131.8,52.5 133.6,52.5 133.6,54.5 135.4,54.5 135.4,55.5 135.4,57.4 138.8,57.4 138.8,59.2 138.8,60.9 142.3,60.9 142.3,62.5 142.3,64.2 146.1,64.2 146.1,65.8 146.1,67.5 149.6,67.5 149.6,69.2 149.6,71.0 151.9,71.0 151.9,72.7 151.9,73.0 154.2,73.0 154.2,73.5 156.5,73.5 156.5,73.8 156.5,74.4 160.0,74.4 160.0,75.0 160.0,76.8 163.4,76.8 163.4,78.5 163.4,80.2 166.9,80.2 166.9,81.9 166.9,83.7 170.4,83.7 170.4,85.4 170.4,86.6 173.8,86.6 173.8,87.7 173.8,89.4 177.3,89.4 177.3,91.1 177.3,92.7 179.6,92.7 179.6,94.2 179.6,96.0 182.4,96.0 182.4,97.7 182.4,98.1 184.4,98.1 184.4,98.9 186.5,98.9 186.5,99.3 186.5,99.9 188.5,99.9 188.5,101.1 190.5,101.1 190.5,101.7 190.5,103.3 192.2,103.3 192.2,105.0 192.2,105.2 195.4,105.2 195.4,105.6 198.7,105.6 198.7,105.8 198.7,107.0 200.3,107.0 200.3,108.2 200.3,109.4 202.3,109.4 202.3,111.9 204.3,111.9 204.3,113.1 204.3,114.3 205.6,114.3 205.6,116.8 206.8,116.8 206.8,118.0 206.8,119.4 207.2,119.4 207.2,122.1 207.7,122.1 207.7,123.5 207.7,124.7 211.1,124.7 211.1,125.8 211.1,126.9 214.6,126.9 214.6,128.1 214.6,128.3 217.3,128.3 217.3,128.7 220.0,128.7 220.0,129.0 222.7,129.0 222.7,129.2 222.7,130.3 223.8,130.3 223.8,131.5 223.8,131.7 226.4,131.7 226.4,131.9 229.0,131.9 229.0,132.2 231.6,132.2 231.6,132.6 234.2,132.6 234.2,132.7 234.2,133.3 236.5,133.3 236.5,134.4 238.8,134.4 238.8,135.0 238.8,136.8 242.3,136.8 242.3,138.5 242.3,140.2 245.7,140.2 245.7,141.9 245.7,143.1 248.1,143.1 248.1,144.2 248.1,145.3 250.4,145.3 250.4,146.5 250.4,148.2 251.9,148.2 251.9,150.0 251.9,151.8 252.5,151.8 252.5,153.5 252.5,153.9 254.5,153.9 254.5,154.8 256.5,154.8 256.5,155.2 256.5,156.6 257.7,156.6 257.7,158.1 257.7,159.8 260.0,159.8 260.0,161.5 260.0,163.2 261.1,163.2 261.1,165.0 261.1,165.6 264.6,165.6 264.6,166.1 264.6,167.3 266.9,167.3 266.9,168.5 266.9,169.1 270.4,169.1 270.4,169.6 270.4,171.3 271.5,171.3 271.5,173.1 285.4,173.1 285.4,173.4 285.4,174.9 287.7,174.9 287.7,176.5 287.7,177.5 290.0,177.5 290.0,178.5 290.0,185.5 302.9,185.5 302.9,191.0 312.4,191.0 312.4,201.2 323.0,201.2 323.0,205.8 334.2,205.8 334.2,212.7 342.3,212.7 342.3,227.3 368.2,227.3" fill="none" stroke="#d09ea5" stroke-width="1.2"/>
<path d="M54.0,8.5 54.0,8.8 56.0,8.8 56.0,9.2 58.0,9.2 58.0,9.5 58.0,11.0 60.5,11.0 60.5,12.5 60.5,14.0 62.5,14.0 62.5,15.5 62.5,16.9 65.5,16.9 65.5,18.4 65.5,20.1 68.9,20.1 68.9,21.8 68.9,23.0 70.7,23.0 70.7,25.3 72.4,25.3 72.4,26.5 72.4,27.6 74.1,27.6 74.1,29.9 75.8,29.9 75.8,31.1 75.8,32.8 79.3,32.8 79.3,34.5 79.3,36.2 82.8,36.2 82.8,38.0 82.8,39.7 86.2,39.7 86.2,41.4 86.2,43.1 89.7,43.1 89.7,44.9 89.7,45.5 92.5,45.5 92.5,46.0 92.5,46.6 95.0,46.6 95.0,47.2 95.0,48.6 98.5,48.6 98.5,50.0 98.5,51.8 101.9,51.8 101.9,53.5 101.9,55.2 105.4,55.2 105.4,56.9 105.4,58.6 108.8,58.6 108.8,60.4 108.8,61.5 111.1,61.5 111.1,62.7 111.1,63.9 113.5,63.9 113.5,65.0 113.5,66.7 116.9,66.7 116.9,68.4 116.9,70.2 120.4,70.2 120.4,71.9 120.4,73.7 123.5,73.7 123.5,75.5 123.5,76.8 127.0,76.8 127.0,78.0 127.0,78.8 130.0,78.8 130.0,79.6 130.0,80.8 131.8,80.8 131.8,83.1 133.5,83.1 133.5,84.2 133.5,86.0 136.9,86.0 136.9,87.7 136.9,89.4 140.4,89.4 140.4,91.1 140.4,92.8 143.8,92.8 143.8,94.6 143.8,96.3 147.3,96.3 147.3,98.1 147.3,99.1 148.9,99.1 148.9,101.0 150.5,101.0 150.5,102.0 150.5,102.6 152.8,102.6 152.8,103.9 155.0,103.9 155.0,104.5 155.0,105.1 157.5,105.1 157.5,106.4 160.0,106.4 160.0,107.0 160.0,107.8 162.2,107.8 162.2,109.5 164.3,109.5 164.3,110.3 164.3,111.7 166.5,111.7 166.5,114.6 168.6,114.6 168.6,117.5 170.8,117.5 170.8,118.9 170.8,120.4 173.0,120.4 173.0,123.2 175.1,123.2 175.1,126.1 177.3,126.1 177.3,127.6 177.3,129.0 178.7,129.0 178.7,131.9 180.2,131.9 180.2,134.8 181.6,134.8 181.6,136.2 181.6,137.3 184.8,137.3 184.8,139.4 188.1,139.4 188.1,140.5 188.1,141.3 190.4,141.3 190.4,142.9 192.7,142.9 192.7,144.6 195.0,144.6 195.0,145.4 195.0,146.0 197.3,146.0 197.3,147.1 199.6,147.1 199.6,147.7 199.6,149.4 203.1,149.4 203.1,151.1 203.1,152.8 205.4,152.8 205.4,154.6 205.4,156.3 206.5,156.3 206.5,158.1 206.5,159.6 210.0,159.6 210.0,161.0 210.0,161.8 212.5,161.8 212.5,163.2 215.0,163.2 215.0,164.0 215.0,164.8 217.3,164.8 217.3,166.5 219.7,166.5 219.7,168.2 222.0,168.2 222.0,169.0 222.0,169.9 224.7,169.9 224.7,171.6 227.3,171.6 227.3,173.3 230.0,173.3 230.0,174.2 230.0,174.5 232.3,174.5 232.3,175.1 234.6,175.1 234.6,175.4 234.6,176.6 235.8,176.6 235.8,177.7 235.8,178.2 239.2,178.2 239.2,178.8 239.2,179.9 240.4,179.9 240.4,181.1 240.4,181.7 242.7,181.7 242.7,182.3 242.7,184.1 243.8,184.1 243.8,185.8 243.8,186.9 246.1,186.9 246.1,188.1 246.1,189.2 247.8,189.2 247.8,191.6 249.6,191.6 249.6,192.7 249.6,193.8 250.8,193.8 250.8,196.2 251.9,196.2 251.9,197.3 251.9,199.1 255.4,199.1 255.4,200.8 255.4,202.5 256.5,202.5 256.5,204.2 256.5,205.9 260.0,205.9 260.0,207.7 260.0,208.8 261.8,208.8 261.8,211.2 263.5,211.2 263.5,212.3 263.5,213.4 266.9,213.4 266.9,214.6 266.9,215.2 270.4,215.2 270.4,215.8 270.4,216.9 271.5,216.9 271.5,218.1 271.5,218.2 274.1,218.2 274.1,218.5 276.7,218.5 276.7,218.7 279.2,218.7 279.2,219.0 281.8,219.0 281.8,219.2 284.4,219.2 284.4,219.5 287.0,219.5 287.0,219.6 287.0,221.2 288.6,221.2 288.6,222.8 290.2,222.8 290.2,230.9 302.9,230.9 302.9,235.6 312.4,235.6 312.4,241.5 323.4,241.5 323.4,246.0 334.2,246.0 334.2,250.7 343.1,250.7 343.1,258.4 368.2,258.4" fill="none" stroke="#d09ea5" stroke-width="1.2"/>
<path d="M54.0,8.5 54.0,8.8 56.0,8.8 56.0,9.2 58.0,9.2 58.0,9.5 58.0,10.8 61.0,10.8 61.0,12.0 61.0,13.1 62.1,13.1 62.1,15.4 63.2,15.4 63.2,16.5 63.2,17.7 65.3,17.7 65.3,20.0 67.4,20.0 67.4,21.2 67.4,23.1 70.5,23.1 70.5,25.0 70.5,26.6 72.8,26.6 72.8,28.1 72.8,29.6 75.1,29.6 75.1,31.2 75.1,32.4 76.6,32.4 76.6,33.5 76.6,35.0 78.2,35.0 78.2,36.5 78.2,38.2 80.3,38.2 80.3,40.0 80.3,41.5 82.6,41.5 82.6,43.1 82.6,44.7 84.9,44.7 84.9,46.2 84.9,47.7 87.2,47.7 87.2,49.2 87.2,50.8 88.8,50.8 88.8,52.3 88.8,53.8 90.3,53.8 90.3,55.4 90.3,57.0 91.8,57.0 91.8,58.5 91.8,60.0 93.4,60.0 93.4,61.5 93.4,63.0 94.9,63.0 94.9,64.6 94.9,65.4 97.0,65.4 97.0,67.1 99.0,67.1 99.0,68.0 99.0,68.8 101.1,68.8 101.1,70.2 103.2,70.2 103.2,71.0 103.2,72.2 104.5,72.2 104.5,74.5 105.7,74.5 105.7,76.8 107.0,76.8 107.0,78.0 107.0,79.2 108.4,79.2 108.4,81.5 109.7,81.5 109.7,83.8 111.1,83.8 111.1,85.0 111.1,86.4 112.8,86.4 112.8,89.3 114.6,89.3 114.6,92.2 116.3,92.2 116.3,95.1 118.1,95.1 118.1,96.5 118.1,98.0 119.5,98.0 119.5,100.8 120.9,100.8 120.9,103.8 122.4,103.8 122.4,106.7 123.8,106.7 123.8,108.1 123.8,109.4 125.9,109.4 125.9,112.1 128.0,112.1 128.0,113.5 128.0,114.6 129.5,114.6 129.5,116.9 131.0,116.9 131.0,118.0 131.0,119.0 133.0,119.0 133.0,120.0 133.0,121.2 135.4,121.2 135.4,122.3 135.4,122.9 138.8,122.9 138.8,123.5 138.8,124.0 140.0,124.0 140.0,124.6 140.0,125.9 141.5,125.9 141.5,128.6 143.0,128.6 143.0,130.0 143.0,131.2 144.6,131.2 144.6,133.8 146.1,133.8 146.1,135.0 146.1,136.4 147.2,136.4 147.2,139.3 148.4,139.3 148.4,140.8 148.4,142.0 149.0,142.0 149.0,144.2 149.6,144.2 149.6,145.4 149.6,146.2 151.9,146.2 151.9,147.9 154.2,147.9 154.2,148.8 154.2,149.4 156.5,149.4 156.5,150.5 158.8,150.5 158.8,151.1 158.8,152.0 161.1,152.0 161.1,153.7 163.4,153.7 163.4,154.6 163.4,155.5 166.3,155.5 166.3,157.2 169.2,157.2 169.2,158.1 169.2,159.3 172.7,159.3 172.7,160.6 172.7,162.1 175.0,162.1 175.0,163.5 175.0,165.2 178.4,165.2 178.4,166.9 178.4,168.1 181.9,168.1 181.9,169.2 181.9,169.8 185.4,169.8 185.4,170.4 185.4,172.1 188.8,172.1 188.8,173.8 188.8,175.6 192.3,175.6 192.3,177.3 192.3,177.9 195.7,177.9 195.7,178.5 195.7,179.6 196.6,179.6 196.6,181.9 197.5,181.9 197.5,183.0 197.5,184.2 198.2,184.2 198.2,186.8 199.0,186.8 199.0,188.0 199.5,188.0 199.5,196.0 199.5,196.5 202.2,196.5 202.2,197.6 205.0,197.6 205.0,198.1 205.6,198.1 205.6,199.6 220.4,199.6 220.4,202.7 220.4,203.8 222.3,203.8 222.3,205.0 228.1,205.0 228.1,208.5 228.1,210.2 230.9,210.2 230.9,211.9 230.9,213.1 231.2,213.1 231.2,215.4 231.5,215.4 231.5,216.5 231.8,216.5 231.8,217.2 246.8,217.2 246.8,220.8 251.6,220.8 251.6,225.6 261.4,225.6 261.4,230.3 282.5,230.3" fill="none" stroke="#a9ba98" stroke-width="1.2"/>
<path d="M54.0,8.5 54.0,9.2 56.0,9.2 56.0,10.0 56.0,10.6 57.6,10.6 57.6,11.1 57.6,12.2 58.5,12.2 58.5,14.3 59.3,14.3 59.3,15.4 59.3,17.2 61.1,17.2 61.1,19.0 61.1,20.9 62.8,20.9 62.8,22.7 62.8,23.9 63.8,23.9 63.8,26.2 64.8,26.2 64.8,27.3 64.8,28.4 65.8,28.4 65.8,30.8 66.8,30.8 66.8,31.9 66.8,33.0 67.7,33.0 67.7,35.3 68.5,35.3 68.5,36.5 68.5,38.2 70.5,38.2 70.5,40.0 70.5,41.5 73.4,41.5 73.4,43.1 73.4,44.2 74.2,44.2 74.2,46.5 74.9,46.5 74.9,47.7 74.9,48.9 75.7,48.9 75.7,51.1 76.5,51.1 76.5,52.3 76.5,53.3 77.2,53.3 77.2,55.2 78.0,55.2 78.0,56.2 78.0,58.1 79.5,58.1 79.5,60.0 79.5,61.2 80.3,61.2 80.3,63.8 81.1,63.8 81.1,65.0 81.1,66.2 82.4,66.2 82.4,68.8 83.8,68.8 83.8,70.0 83.8,71.3 84.8,71.3 84.8,73.9 85.8,73.9 85.8,76.5 86.8,76.5 86.8,77.8 86.8,79.0 88.6,79.0 88.6,81.4 90.3,81.4 90.3,83.8 92.1,83.8 92.1,85.0 92.1,86.5 92.9,86.5 92.9,89.3 93.8,89.3 93.8,90.8 93.8,92.2 96.1,92.2 96.1,95.1 98.4,95.1 98.4,96.5 98.4,98.0 99.6,98.0 99.6,100.8 100.8,100.8 100.8,103.8 101.9,103.8 101.9,106.7 103.1,106.7 103.1,108.1 103.1,109.6 105.5,109.6 105.5,112.5 108.0,112.5 108.0,114.0 108.0,115.2 110.0,115.2 110.0,117.8 112.0,117.8 112.0,119.0 112.0,120.2 114.0,120.2 114.0,122.8 116.0,122.8 116.0,124.0 116.0,125.5 119.8,125.5 119.8,126.9 119.8,128.1 120.1,128.1 120.1,130.4 120.4,130.4 120.4,131.5 120.4,133.2 122.0,133.2 122.0,135.0 122.0,136.2 122.5,136.2 122.5,138.4 123.0,138.4 123.0,139.6 123.0,141.3 125.4,141.3 125.4,143.1 125.4,144.2 126.6,144.2 126.6,146.6 127.7,146.6 127.7,147.7 127.7,148.8 128.8,148.8 128.8,151.2 130.0,151.2 130.0,152.3 130.0,154.1 133.5,154.1 133.5,155.8 133.5,156.7 135.8,156.7 135.8,158.3 138.1,158.3 138.1,159.2 138.1,160.9 141.5,160.9 141.5,162.7 141.5,164.3 145.0,164.3 145.0,166.0 145.0,167.4 146.2,167.4 146.2,170.1 147.3,170.1 147.3,171.5 147.3,172.9 148.4,172.9 148.4,175.8 149.6,175.8 149.6,177.3 149.6,179.1 151.9,179.1 151.9,180.8 151.9,181.9 154.2,181.9 154.2,183.1 154.2,184.8 157.7,184.8 157.7,186.5 157.7,187.1 160.0,187.1 160.0,188.2 162.3,188.2 162.3,188.8 162.3,189.1 164.6,189.1 164.6,189.7 166.9,189.7 166.9,190.0 166.9,191.7 170.4,191.7 170.4,193.4 170.4,194.7 174.0,194.7 174.0,196.0 174.0,197.1 176.2,197.1 176.2,199.3 178.5,199.3 178.5,200.4 178.5,201.6 181.9,201.6 181.9,202.7 181.9,203.5 184.2,203.5 184.2,205.2 186.5,205.2 186.5,206.1 186.5,207.1 187.1,207.1 187.1,209.2 187.7,209.2 187.7,210.2 187.7,210.5 190.4,210.5 190.4,211.0 193.1,211.0 193.1,211.6 195.8,211.6 195.8,211.9 195.8,213.7 198.1,213.7 198.1,215.4 198.1,216.8 198.6,216.8 198.6,219.7 199.2,219.7 199.2,221.1 199.2,222.2 199.4,222.2 199.4,224.4 199.5,224.4 199.5,226.6 199.7,226.6 199.7,227.7 199.7,228.8 201.9,228.8 201.9,229.9 201.9,230.7 205.2,230.7 205.2,231.5 219.6,231.5 219.6,233.0 219.6,234.2 221.4,234.2 221.4,235.3 221.4,236.4 224.6,236.4 224.6,237.5 224.6,238.6 227.9,238.6 227.9,239.6 227.9,240.7 231.1,240.7 231.1,241.8 232.0,241.8 232.0,243.1 247.1,243.1 247.1,245.8 251.6,245.8 251.6,250.5 261.4,250.5 261.4,256.5 282.5,256.5" fill="none" stroke="#a9ba98" stroke-width="1.2"/>
<path d="M54.0,8.5 54.0,8.9 56.0,8.9 56.0,9.6 58.0,9.6 58.0,10.0 58.0,11.2 58.9,11.2 58.9,13.8 59.7,13.8 59.7,15.0 59.7,16.1 60.2,16.1 60.2,18.4 60.8,18.4 60.8,19.6 60.8,20.8 61.4,20.8 61.4,23.0 62.0,23.0 62.0,24.2 62.0,25.4 62.8,25.4 62.8,27.7 63.5,27.7 63.5,28.8 63.5,29.9 64.5,29.9 64.5,32.0 65.5,32.0 65.5,33.0 65.5,34.0 66.8,34.0 66.8,36.0 68.0,36.0 68.0,37.0 68.0,38.0 69.2,38.0 69.2,40.0 70.5,40.0 70.5,41.0 70.5,42.0 71.5,42.0 71.5,44.0 72.5,44.0 72.5,45.0 72.5,46.0 73.5,46.0 73.5,48.1 74.5,48.1 74.5,49.2 74.5,50.4 75.1,50.4 75.1,52.6 75.7,52.6 75.7,53.8 75.7,55.1 76.5,55.1 76.5,57.9 77.2,57.9 77.2,59.2 77.2,60.7 77.8,60.7 77.8,63.6 78.4,63.6 78.4,65.0 78.4,66.2 79.2,66.2 79.2,68.8 80.0,68.8 80.0,70.0 80.0,71.2 81.0,71.2 81.0,73.8 82.0,73.8 82.0,76.2 83.0,76.2 83.0,77.5 83.0,78.8 84.1,78.8 84.1,81.2 85.2,81.2 85.2,83.8 86.3,83.8 86.3,85.0 86.3,86.4 87.2,86.4 87.2,89.3 88.0,89.3 88.0,92.2 88.9,92.2 88.9,95.1 89.8,95.1 89.8,96.5 89.8,98.0 90.8,98.0 90.8,100.8 91.8,100.8 91.8,103.8 92.8,103.8 92.8,106.7 93.8,106.7 93.8,108.1 93.8,109.5 94.7,109.5 94.7,112.4 95.5,112.4 95.5,115.3 96.4,115.3 96.4,118.2 97.3,118.2 97.3,119.6 97.3,120.8 98.2,120.8 98.2,123.3 99.0,123.3 99.0,124.6 99.0,125.8 99.9,125.8 99.9,128.1 100.8,128.1 100.8,129.2 100.8,130.6 101.7,130.6 101.7,133.5 102.5,133.5 102.5,135.0 102.5,136.4 103.3,136.4 103.3,139.3 104.2,139.3 104.2,140.8 104.2,142.1 105.3,142.1 105.3,144.7 106.5,144.7 106.5,146.0 106.5,147.2 108.0,147.2 108.0,149.6 109.5,149.6 109.5,150.8 109.5,152.2 112.5,152.2 112.5,155.1 115.4,155.1 115.4,156.5 115.4,157.9 117.7,157.9 117.7,160.8 120.0,160.8 120.0,162.3 120.0,163.5 121.7,163.5 121.7,165.8 123.4,165.8 123.4,166.9 123.4,168.1 125.2,168.1 125.2,170.4 126.9,170.4 126.9,171.5 126.9,172.7 128.7,172.7 128.7,174.9 130.4,174.9 130.4,176.1 130.4,177.3 132.1,177.3 132.1,179.6 133.8,179.6 133.8,180.8 133.8,182.1 134.8,182.1 134.8,184.6 135.8,184.6 135.8,185.8 135.8,187.2 136.9,187.2 136.9,190.1 138.1,190.1 138.1,191.5 138.1,192.9 139.2,192.9 139.2,195.8 140.4,195.8 140.4,197.3 140.4,198.5 141.6,198.5 141.6,200.8 142.7,200.8 142.7,201.9 142.7,203.1 143.8,203.1 143.8,205.4 145.0,205.4 145.0,206.5 145.0,207.7 145.6,207.7 145.6,209.9 146.1,209.9 146.1,211.1 146.1,212.3 146.7,212.3 146.7,214.6 147.3,214.6 147.3,215.8 147.3,216.9 147.8,216.9 147.8,219.0 148.3,219.0 148.3,220.0 148.3,225.5 153.7,225.5 153.7,228.5 169.3,228.5 169.3,235.2 177.2,235.2 177.2,239.3 199.5,239.3" fill="none" stroke="#edbb82" stroke-width="1.2"/>
<path d="M54.0,8.5 54.0,9.3 55.2,9.3 55.2,10.2 55.2,11.4 55.5,11.4 55.5,13.8 55.8,13.8 55.8,15.0 55.8,16.1 56.0,16.1 56.0,18.4 56.2,18.4 56.2,19.6 56.2,20.8 56.6,20.8 56.6,23.0 57.0,23.0 57.0,24.2 57.0,25.4 57.4,25.4 57.4,27.7 57.8,27.7 57.8,28.8 57.8,30.0 58.3,30.0 58.3,32.3 58.9,32.3 58.9,33.5 58.9,34.6 59.3,34.6 59.3,37.0 59.7,37.0 59.7,38.1 59.7,39.0 61.1,39.0 61.1,40.0 61.1,41.1 61.9,41.1 61.9,43.5 62.6,43.5 62.6,44.6 62.6,46.0 63.4,46.0 63.4,48.7 64.2,48.7 64.2,50.0 64.2,51.4 65.0,51.4 65.0,54.0 65.7,54.0 65.7,55.4 65.7,56.5 66.5,56.5 66.5,58.8 67.2,58.8 67.2,60.0 67.2,61.2 68.0,61.2 68.0,63.8 68.8,63.8 68.8,65.0 68.8,66.2 69.7,66.2 69.7,68.8 70.5,68.8 70.5,70.0 70.5,71.3 71.3,71.3 71.3,74.0 72.0,74.0 72.0,76.7 72.8,76.7 72.8,78.0 72.8,79.2 73.5,79.2 73.5,81.5 74.1,81.5 74.1,83.8 74.8,83.8 74.8,85.0 74.8,86.4 75.5,86.4 75.5,89.3 76.2,89.3 76.2,92.2 77.0,92.2 77.0,95.1 77.7,95.1 77.7,96.5 77.7,98.0 78.5,98.0 78.5,100.8 79.4,100.8 79.4,103.8 80.2,103.8 80.2,106.7 81.1,106.7 81.1,108.1 81.1,109.5 82.0,109.5 82.0,112.4 82.8,112.4 82.8,115.3 83.7,115.3 83.7,118.2 84.6,118.2 84.6,119.6 84.6,120.8 85.8,120.8 85.8,123.3 86.9,123.3 86.9,124.6 86.9,125.8 88.1,125.8 88.1,128.1 89.2,128.1 89.2,129.2 89.2,130.6 90.3,130.6 90.3,133.5 91.5,133.5 91.5,135.0 91.5,136.4 92.7,136.4 92.7,139.3 93.8,139.3 93.8,140.8 93.8,142.1 94.7,142.1 94.7,144.7 95.5,144.7 95.5,146.0 95.5,147.2 96.2,147.2 96.2,149.6 96.9,149.6 96.9,150.8 96.9,152.2 98.1,152.2 98.1,155.1 99.2,155.1 99.2,156.5 99.2,157.9 100.3,157.9 100.3,160.8 101.5,160.8 101.5,162.3 101.5,163.8 102.4,163.8 102.4,166.6 103.3,166.6 103.3,168.1 103.3,169.5 104.2,169.5 104.2,172.4 105.0,172.4 105.0,173.8 105.0,175.2 105.8,175.2 105.8,178.1 106.7,178.1 106.7,179.6 106.7,181.2 107.8,181.2 107.8,184.2 109.0,184.2 109.0,185.8 109.0,187.2 110.8,187.2 110.8,190.1 112.7,190.1 112.7,191.5 112.7,192.9 115.0,192.9 115.0,195.8 117.3,195.8 117.3,197.3 117.3,198.5 119.6,198.5 119.6,200.8 121.9,200.8 121.9,201.9 121.9,203.1 124.2,203.1 124.2,205.4 126.5,205.4 126.5,206.5 126.5,207.7 128.8,207.7 128.8,209.9 131.1,209.9 131.1,211.1 131.1,212.3 132.8,212.3 132.8,214.6 134.6,214.6 134.6,215.8 134.6,217.1 135.8,217.1 135.8,219.7 136.9,219.7 136.9,221.0 136.9,222.5 138.0,222.5 138.0,225.4 139.1,225.4 139.1,226.9 139.1,228.0 140.1,228.0 140.1,230.1 141.2,230.1 141.2,231.2 141.2,232.3 142.3,232.3 142.3,234.5 143.4,234.5 143.4,235.6 143.4,236.7 144.5,236.7 144.5,238.8 145.6,238.8 145.6,239.9 145.6,240.9 147.7,240.9 147.7,242.0 148.3,242.0 148.3,250.8 169.3,250.8 169.3,255.7 199.5,255.7" fill="none" stroke="#edbb82" stroke-width="1.2"/>
<path d="M54.0,8.5 54.0,9.2 56.0,9.2 56.0,10.0 56.0,11.2 56.7,11.2 56.7,13.8 57.4,13.8 57.4,15.0 57.4,16.1 57.8,16.1 57.8,18.4 58.2,18.4 58.2,19.6 58.2,20.8 58.8,20.8 58.8,23.0 59.3,23.0 59.3,24.2 59.3,25.4 59.9,25.4 59.9,27.7 60.5,27.7 60.5,28.8 60.5,30.0 61.2,30.0 61.2,32.3 62.0,32.3 62.0,33.5 62.0,34.6 62.9,34.6 62.9,36.9 63.8,36.9 63.8,38.0 63.8,39.8 66.5,39.8 66.5,41.5 66.5,43.0 68.0,43.0 68.0,44.6 68.0,46.2 69.2,46.2 69.2,47.7 69.2,48.9 69.6,48.9 69.6,51.1 69.9,51.1 69.9,52.3 69.9,53.4 70.7,53.4 70.7,55.8 71.5,55.8 71.5,56.9 71.5,58.0 72.0,58.0 72.0,60.3 72.6,60.3 72.6,61.5 72.6,63.2 73.5,63.2 73.5,65.0 73.5,66.2 74.3,66.2 74.3,68.8 75.2,68.8 75.2,70.0 75.2,71.3 76.0,71.3 76.0,73.9 76.9,73.9 76.9,76.5 77.7,76.5 77.7,77.8 77.7,79.0 78.7,79.0 78.7,81.4 79.6,81.4 79.6,83.8 80.6,83.8 80.6,85.0 80.6,86.4 81.0,86.4 81.0,89.3 81.4,89.3 81.4,92.2 81.9,92.2 81.9,95.1 82.3,95.1 82.3,96.5 82.3,98.0 83.4,98.0 83.4,100.8 84.6,100.8 84.6,102.3 84.6,103.8 86.0,103.8 86.0,106.7 87.5,106.7 87.5,108.1 87.5,109.5 89.0,109.5 89.0,112.4 90.4,112.4 90.4,113.8 90.4,115.3 91.6,115.3 91.6,118.4 92.7,118.4 92.7,120.0 92.7,121.2 93.3,121.2 93.3,123.5 93.8,123.5 93.8,125.8 94.4,125.8 94.4,128.1 95.0,128.1 95.0,129.2 95.0,130.6 96.2,130.6 96.2,133.5 97.3,133.5 97.3,135.0 97.3,136.2 98.2,136.2 98.2,138.4 99.0,138.4 99.0,139.6 99.0,140.8 99.9,140.8 99.9,143.1 100.8,143.1 100.8,144.2 100.8,145.3 101.2,145.3 101.2,147.5 101.7,147.5 101.7,149.7 102.1,149.7 102.1,150.8 102.1,152.2 102.9,152.2 102.9,155.1 103.8,155.1 103.8,156.5 103.8,157.9 105.2,157.9 105.2,160.8 106.7,160.8 106.7,162.3 106.7,163.8 108.2,163.8 108.2,166.6 109.6,166.6 109.6,168.1 109.6,169.5 111.3,169.5 111.3,172.4 113.1,172.4 113.1,173.8 113.1,175.2 115.4,175.2 115.4,178.1 117.7,178.1 117.7,179.6 117.7,180.8 120.4,180.8 120.4,183.3 123.1,183.3 123.1,184.6 123.1,185.8 125.4,185.8 125.4,188.1 127.7,188.1 127.7,189.2 127.7,190.9 131.1,190.9 131.1,192.7 131.1,193.8 132.2,193.8 132.2,196.2 133.4,196.2 133.4,197.3 133.4,198.5 134.6,198.5 134.6,200.8 135.8,200.8 135.8,201.9 135.8,203.1 136.7,203.1 136.7,205.4 137.5,205.4 137.5,206.5 137.5,207.7 138.3,207.7 138.3,209.9 139.2,209.9 139.2,211.1 139.2,212.3 140.1,212.3 140.1,214.6 140.9,214.6 140.9,215.8 140.9,216.9 141.9,216.9 141.9,219.0 142.9,219.0 142.9,220.0 142.9,221.2 143.9,221.2 143.9,223.5 145.0,223.5 145.0,224.7 145.0,225.8 146.6,225.8 146.6,226.9 146.6,228.6 148.3,228.6 148.3,230.2 148.8,230.2 148.8,241.2 153.7,241.2 153.7,243.3 169.3,243.3 169.3,248.4 177.2,248.4 177.2,251.5 199.5,251.5 199.5,260.0" fill="none" stroke="#e08a30" stroke-width="1.5"/>
<path d="M54.0,8.5 54.0,9.0 57.0,9.0 57.0,9.5 57.0,10.8 59.5,10.8 59.5,12.0 59.5,13.5 60.8,13.5 60.8,15.0 60.8,16.1 61.8,16.1 61.8,18.4 62.8,18.4 62.8,19.6 62.8,21.1 65.5,21.1 65.5,22.7 65.5,24.2 67.0,24.2 67.0,25.8 67.0,27.0 68.5,27.0 68.5,28.1 68.5,29.2 69.7,29.2 69.7,30.4 69.7,31.6 71.2,31.6 71.2,32.7 71.2,33.9 72.8,33.9 72.8,35.0 72.8,36.0 73.5,36.0 73.5,38.0 74.2,38.0 74.2,39.0 74.2,40.0 75.3,40.0 75.3,42.1 76.5,42.1 76.5,43.1 76.5,44.7 78.8,44.7 78.8,46.2 78.8,47.4 80.3,47.4 80.3,48.5 80.3,50.0 81.1,50.0 81.1,51.5 81.1,52.6 82.6,52.6 82.6,53.8 82.6,55.0 84.2,55.0 84.2,56.2 84.2,57.7 85.7,57.7 85.7,59.2 85.7,60.4 87.2,60.4 87.2,61.5 87.2,62.6 88.8,62.6 88.8,63.8 88.8,65.1 89.7,65.1 89.7,67.7 90.5,67.7 90.5,69.0 90.5,70.5 92.0,70.5 92.0,73.5 93.5,73.5 93.5,75.0 93.5,76.2 95.5,76.2 95.5,78.8 97.5,78.8 97.5,80.0 97.5,81.2 100.3,81.2 100.3,83.8 103.1,83.8 103.1,85.0 103.1,86.5 104.5,86.5 104.5,89.5 106.0,89.5 106.0,91.0 106.0,92.4 107.4,92.4 107.4,95.1 108.8,95.1 108.8,96.5 108.8,97.9 110.4,97.9 110.4,100.6 112.0,100.6 112.0,102.0 112.0,103.5 113.8,103.5 113.8,106.6 115.7,106.6 115.7,108.1 115.7,109.6 117.1,109.6 117.1,112.5 118.5,112.5 118.5,114.0 118.5,115.4 120.0,115.4 120.0,118.2 121.5,118.2 121.5,119.6 121.5,120.8 122.7,120.8 122.7,123.3 123.8,123.3 123.8,124.6 123.8,125.8 127.3,125.8 127.3,126.9 127.3,128.3 127.8,128.3 127.8,131.2 128.4,131.2 128.4,132.7 128.4,133.8 130.7,133.8 130.7,135.0 130.7,136.1 132.4,136.1 132.4,138.2 134.2,138.2 134.2,139.2 134.2,139.6 136.1,139.6 136.1,140.4 138.1,140.4 138.1,140.8 138.1,142.0 140.4,142.0 140.4,144.2 142.7,144.2 142.7,145.4 142.7,147.1 146.1,147.1 146.1,148.8 146.1,150.2 147.0,150.2 147.0,153.1 147.9,153.1 147.9,154.6 147.9,155.9 148.4,155.9 148.4,158.6 148.8,158.6 148.8,160.0 148.8,161.8 150.8,161.8 150.8,163.5 150.8,164.7 154.2,164.7 154.2,165.8 154.2,167.5 156.5,167.5 156.5,169.2 156.5,170.3 160.0,170.3 160.0,171.5 160.0,171.8 162.3,171.8 162.3,172.4 164.6,172.4 164.6,172.7 164.6,174.4 168.1,174.4 168.1,176.1 168.1,177.3 170.4,177.3 170.4,178.5 170.4,179.1 173.8,179.1 173.8,179.6 173.8,181.3 177.3,181.3 177.3,183.1 177.3,184.2 179.6,184.2 179.6,185.4 179.6,186.2 183.1,186.2 183.1,187.1 183.1,188.6 185.4,188.6 185.4,190.0 185.4,191.2 187.7,191.2 187.7,192.3 187.7,193.4 189.4,193.4 189.4,194.6 189.4,194.9 192.6,194.9 192.6,195.5 195.8,195.5 195.8,195.8 195.8,197.2 197.5,197.2 197.5,198.7 197.5,199.7 198.3,199.7 198.3,201.7 199.2,201.7 199.2,202.7 199.8,202.7 199.8,211.9 199.8,213.1 202.1,213.1 202.1,214.2 202.1,215.3 205.6,215.3 205.6,216.5 205.6,217.1 207.3,217.1 207.3,217.7 219.4,217.7 219.4,218.3 219.4,219.7 221.1,219.7 221.1,221.1 221.1,222.2 223.4,222.2 223.4,223.4 223.4,223.7 225.8,223.7 225.8,224.3 228.1,224.3 228.1,224.6 228.1,225.8 230.4,225.8 230.4,226.9 230.4,228.4 231.5,228.4 231.5,230.0 231.8,230.0 231.8,234.2 246.8,234.2 246.8,238.6 251.6,238.6 251.6,242.7 261.4,242.7 261.4,248.2 282.5,248.2 282.5,253.7 288.2,253.7 288.2,260.0" fill="none" stroke="#4f6b33" stroke-width="1.5"/>
<path d="M54.0,8.5 54.0,8.5 57.0,8.5 57.0,8.6 60.0,8.6 60.0,8.6 60.0,9.4 62.0,9.4 62.0,10.3 62.0,10.9 64.3,10.9 64.3,12.0 66.6,12.0 66.6,12.6 66.6,13.2 68.9,13.2 68.9,14.3 71.2,14.3 71.2,14.9 71.2,16.1 74.7,16.1 74.7,17.2 74.7,18.4 78.1,18.4 78.1,19.5 78.1,21.2 81.0,21.2 81.0,23.0 81.0,24.1 83.9,24.1 83.9,25.3 83.9,26.8 87.4,26.8 87.4,28.2 87.4,29.0 90.8,29.0 90.8,29.9 90.8,31.4 94.3,31.4 94.3,33.0 94.3,34.4 96.6,34.4 96.6,35.7 96.6,36.9 99.3,36.9 99.3,38.0 99.3,39.0 101.4,39.0 101.4,40.9 103.6,40.9 103.6,41.8 103.6,42.4 106.3,42.4 106.3,43.8 109.0,43.8 109.0,44.4 109.0,45.4 110.5,45.4 110.5,47.4 112.0,47.4 112.0,48.4 112.0,49.0 114.3,49.0 114.3,50.2 116.6,50.2 116.6,50.8 116.6,51.6 118.8,51.6 118.8,53.2 121.0,53.2 121.0,54.0 121.0,55.7 124.2,55.7 124.2,57.4 124.2,59.3 127.4,59.3 127.4,61.2 127.4,62.5 130.8,62.5 130.8,63.8 130.8,65.3 133.5,65.3 133.5,66.9 133.5,68.7 135.8,68.7 135.8,70.4 135.8,72.1 139.2,72.1 139.2,73.8 139.2,75.5 142.7,75.5 142.7,77.3 142.7,78.4 146.1,78.4 146.1,79.6 146.1,80.8 149.6,80.8 149.6,81.9 149.6,83.1 151.9,83.1 151.9,84.2 151.9,86.0 153.1,86.0 153.1,87.7 153.1,87.8 155.4,87.8 155.4,88.1 157.7,88.1 157.7,88.3 157.7,89.2 160.6,89.2 160.6,90.0 160.6,91.2 163.4,91.2 163.4,92.3 163.4,93.4 165.5,93.4 165.5,94.6 165.5,95.8 166.9,95.8 166.9,96.9 166.9,98.4 167.5,98.4 167.5,101.2 168.1,101.2 168.1,102.7 168.1,103.0 170.4,103.0 170.4,103.5 172.7,103.5 172.7,103.8 172.7,104.9 175.0,104.9 175.0,106.1 175.0,107.3 177.3,107.3 177.3,108.5 177.3,109.7 178.4,109.7 178.4,112.0 179.6,112.0 179.6,113.1 179.6,114.8 183.1,114.8 183.1,116.5 183.1,117.7 186.5,117.7 186.5,118.8 186.5,120.5 190.0,120.5 190.0,122.3 190.0,122.9 192.3,122.9 192.3,124.0 194.6,124.0 194.6,124.6 194.6,124.9 196.6,124.9 196.6,125.5 198.5,125.5 198.5,125.8 198.5,127.0 199.3,127.0 199.3,129.2 200.2,129.2 200.2,130.4 200.2,130.7 202.2,130.7 202.2,131.2 204.2,131.2 204.2,131.5 204.2,132.7 204.8,132.7 204.8,134.9 205.4,134.9 205.4,136.1 205.4,137.8 207.7,137.8 207.7,139.6 207.7,140.8 208.2,140.8 208.2,143.1 208.8,143.1 208.8,144.2 208.8,145.3 211.1,145.3 211.1,146.5 211.1,147.7 213.5,147.7 213.5,148.8 213.5,149.7 215.8,149.7 215.8,150.6 215.8,150.7 218.1,150.7 218.1,150.8 220.4,150.8 220.4,151.0 222.7,151.0 222.7,151.1 222.7,152.0 225.0,152.0 225.0,152.9 225.0,153.0 227.7,153.0 227.7,153.2 230.4,153.2 230.4,153.3 233.1,153.3 233.1,153.4 233.1,154.6 235.4,154.6 235.4,155.8 235.4,156.4 239.2,156.4 239.2,156.9 239.2,158.1 240.4,158.1 240.4,159.2 240.4,159.8 242.7,159.8 242.7,160.4 242.7,162.1 245.0,162.1 245.0,163.8 245.0,165.6 248.5,165.6 248.5,167.3 248.5,168.4 250.8,168.4 250.8,169.6 250.8,171.1 251.4,171.1 251.4,174.0 251.9,174.0 251.9,175.4 251.9,176.6 254.2,176.6 254.2,177.7 254.2,178.2 256.5,178.2 256.5,178.8 256.5,179.9 257.7,179.9 257.7,181.1 257.7,181.7 260.0,181.7 260.0,182.3 260.0,183.8 260.3,183.8 260.3,186.6 260.6,186.6 260.6,188.1 260.6,188.6 263.5,188.6 263.5,189.2 263.5,190.9 264.6,190.9 264.6,192.7 270.4,192.7 270.4,193.8 270.4,195.6 271.5,195.6 271.5,197.3 286.5,197.3 286.5,197.5 286.5,199.2 288.0,199.2 288.0,201.0 288.0,201.8 289.4,201.8 289.4,202.5 289.8,202.5 289.8,210.2 302.9,210.2 302.9,214.8 312.4,214.8 312.4,219.8 314.0,219.8 314.0,225.4 323.2,225.4 323.2,230.0 334.2,230.0 334.2,235.6 343.1,235.6 343.1,251.5 368.2,251.5" fill="none" stroke="#87384a" stroke-width="1.5"/>
<path d="M54.0,8.5 54.0,8.5 56.6,8.5 56.6,8.5 59.2,8.5 59.2,8.5 61.9,8.5 61.9,8.6 64.5,8.6 64.5,8.6 67.1,8.6 67.1,8.6 69.7,8.6 69.7,8.6 69.7,9.4 70.6,9.4 70.6,10.2 70.6,10.8 72.3,10.8 72.3,11.5 72.3,12.3 75.8,12.3 75.8,13.2 93.0,13.2 93.0,14.3 93.5,14.3 93.5,15.4 93.5,16.3 95.7,16.3 95.7,17.2 95.7,18.0 98.3,18.0 98.3,18.8 98.3,19.0 100.3,19.0 100.3,19.3 102.4,19.3 102.4,19.5 102.4,20.1 105.2,20.1 105.2,21.2 108.1,21.2 108.1,21.8 108.1,22.7 111.0,22.7 111.0,24.4 113.9,24.4 113.9,25.3 113.9,25.9 116.8,25.9 116.8,27.0 119.7,27.0 119.7,27.6 119.7,28.4 122.2,28.4 122.2,29.9 124.7,29.9 124.7,30.7 124.7,31.4 127.4,31.4 127.4,32.7 130.1,32.7 130.1,33.4 130.1,33.7 132.8,33.7 132.8,34.4 135.5,34.4 135.5,34.7 135.5,34.9 138.3,34.9 138.3,35.3 141.1,35.3 141.1,35.5 141.1,36.0 143.4,36.0 143.4,36.9 145.8,36.9 145.8,37.3 145.8,37.6 147.9,37.6 147.9,38.2 150.0,38.2 150.0,38.5 150.0,39.6 152.3,39.6 152.3,40.8 152.3,42.5 154.6,42.5 154.6,44.2 154.6,46.0 156.9,46.0 156.9,47.7 156.9,48.9 160.4,48.9 160.4,50.0 160.4,51.7 163.8,51.7 163.8,53.4 163.8,55.1 167.3,55.1 167.3,56.9 167.3,57.5 169.6,57.5 169.6,58.6 171.9,58.6 171.9,59.2 171.9,60.3 173.4,60.3 173.4,62.4 175.0,62.4 175.0,63.5 175.0,65.2 177.3,65.2 177.3,66.9 177.3,68.7 179.6,68.7 179.6,70.4 179.6,72.1 181.9,72.1 181.9,73.8 181.9,74.9 184.2,74.9 184.2,76.1 184.2,77.3 186.5,77.3 186.5,78.5 186.5,79.5 189.2,79.5 189.2,80.4 189.2,82.1 191.5,82.1 191.5,83.8 191.5,84.4 195.0,84.4 195.0,85.0 195.0,85.2 197.3,85.2 197.3,85.5 199.6,85.5 199.6,85.6 199.6,86.4 203.1,86.4 203.1,87.3 203.1,87.8 206.5,87.8 206.5,88.4 206.5,89.0 210.0,89.0 210.0,89.6 210.0,90.8 213.4,90.8 213.4,91.9 213.4,93.5 214.6,93.5 214.6,95.0 214.6,96.1 216.5,96.1 216.5,98.4 218.4,98.4 218.4,99.5 218.4,100.0 221.7,100.0 221.7,101.1 224.9,101.1 224.9,101.6 224.9,102.3 227.4,102.3 227.4,103.7 230.0,103.7 230.0,104.4 230.0,105.5 232.5,105.5 232.5,107.5 235.0,107.5 235.0,108.6 235.0,108.9 237.3,108.9 237.3,109.2 237.3,110.7 239.6,110.7 239.6,112.1 246.5,112.1 246.5,112.4 246.5,114.0 248.8,114.0 248.8,115.6 248.8,116.2 252.3,116.2 252.3,116.7 252.3,117.3 254.6,117.3 254.6,117.9 254.6,118.2 258.1,118.2 258.1,118.4 258.1,120.2 259.2,120.2 259.2,121.9 259.2,123.1 261.5,123.1 261.5,124.2 261.5,124.6 265.0,124.6 265.0,125.0 265.0,126.5 265.9,126.5 265.9,128.0 265.9,129.2 266.9,129.2 266.9,131.6 267.9,131.6 267.9,133.9 268.9,133.9 268.9,135.1 268.9,136.8 271.1,136.8 271.1,138.4 279.9,138.4 279.9,141.4 300.6,141.4 300.6,145.0 310.4,145.0 310.4,150.5 325.0,150.5 325.0,156.6 340.7,156.6 340.7,163.9 350.5,163.9 350.5,170.0 366.3,170.0 366.3,178.9 459.6,178.9 459.6,205.4 474.8,205.4" fill="none" stroke="#22374f" stroke-width="1.5"/>
<path d="M45.5,0 V268.5 H520" fill="none" stroke="#555555" stroke-width="1.2"/>
<line x1="40" y1="260.2" x2="45.5" y2="260.2" stroke="#555555" stroke-width="1.1"/>
<line x1="40" y1="235.0" x2="45.5" y2="235.0" stroke="#555555" stroke-width="1.1"/>
<line x1="40" y1="209.9" x2="45.5" y2="209.9" stroke="#555555" stroke-width="1.1"/>
<line x1="40" y1="184.7" x2="45.5" y2="184.7" stroke="#555555" stroke-width="1.1"/>
<line x1="40" y1="159.6" x2="45.5" y2="159.6" stroke="#555555" stroke-width="1.1"/>
<line x1="40" y1="134.4" x2="45.5" y2="134.4" stroke="#555555" stroke-width="1.1"/>
<line x1="40" y1="109.2" x2="45.5" y2="109.2" stroke="#555555" stroke-width="1.1"/>
<line x1="40" y1="84.1" x2="45.5" y2="84.1" stroke="#555555" stroke-width="1.1"/>
<line x1="40" y1="58.9" x2="45.5" y2="58.9" stroke="#555555" stroke-width="1.1"/>
<line x1="40" y1="33.8" x2="45.5" y2="33.8" stroke="#555555" stroke-width="1.1"/>
<line x1="40" y1="8.6" x2="45.5" y2="8.6" stroke="#555555" stroke-width="1.1"/>
<line x1="53.5" y1="268.5" x2="53.5" y2="273.5" stroke="#555555" stroke-width="1.1"/>
<line x1="72.5" y1="268.5" x2="72.5" y2="273.5" stroke="#555555" stroke-width="1.1"/>
<line x1="91.6" y1="268.5" x2="91.6" y2="273.5" stroke="#555555" stroke-width="1.1"/>
<line x1="110.6" y1="268.5" x2="110.6" y2="273.5" stroke="#555555" stroke-width="1.1"/>
<line x1="129.7" y1="268.5" x2="129.7" y2="273.5" stroke="#555555" stroke-width="1.1"/>
<line x1="148.7" y1="268.5" x2="148.7" y2="273.5" stroke="#555555" stroke-width="1.1"/>
<line x1="167.7" y1="268.5" x2="167.7" y2="273.5" stroke="#555555" stroke-width="1.1"/>
<line x1="186.8" y1="268.5" x2="186.8" y2="273.5" stroke="#555555" stroke-width="1.1"/>
<line x1="205.8" y1="268.5" x2="205.8" y2="273.5" stroke="#555555" stroke-width="1.1"/>
<line x1="224.9" y1="268.5" x2="224.9" y2="273.5" stroke="#555555" stroke-width="1.1"/>
<line x1="243.9" y1="268.5" x2="243.9" y2="273.5" stroke="#555555" stroke-width="1.1"/>
<line x1="262.9" y1="268.5" x2="262.9" y2="273.5" stroke="#555555" stroke-width="1.1"/>
<line x1="282.0" y1="268.5" x2="282.0" y2="273.5" stroke="#555555" stroke-width="1.1"/>
<line x1="301.0" y1="268.5" x2="301.0" y2="273.5" stroke="#555555" stroke-width="1.1"/>
<line x1="320.1" y1="268.5" x2="320.1" y2="273.5" stroke="#555555" stroke-width="1.1"/>
<line x1="339.1" y1="268.5" x2="339.1" y2="273.5" stroke="#555555" stroke-width="1.1"/>
<line x1="358.1" y1="268.5" x2="358.1" y2="273.5" stroke="#555555" stroke-width="1.1"/>
<line x1="377.2" y1="268.5" x2="377.2" y2="273.5" stroke="#555555" stroke-width="1.1"/>
<line x1="396.2" y1="268.5" x2="396.2" y2="273.5" stroke="#555555" stroke-width="1.1"/>
<line x1="415.3" y1="268.5" x2="415.3" y2="273.5" stroke="#555555" stroke-width="1.1"/>
<line x1="434.3" y1="268.5" x2="434.3" y2="273.5" stroke="#555555" stroke-width="1.1"/>
<line x1="453.3" y1="268.5" x2="453.3" y2="273.5" stroke="#555555" stroke-width="1.1"/>
<line x1="472.4" y1="268.5" x2="472.4" y2="273.5" stroke="#555555" stroke-width="1.1"/>
<line x1="491.4" y1="268.5" x2="491.4" y2="273.5" stroke="#555555" stroke-width="1.1"/>
<line x1="510.5" y1="268.5" x2="510.5" y2="273.5" stroke="#555555" stroke-width="1.1"/>
<text transform="translate(37.00,266.20) scale(0.93,1.03)" text-anchor="end" class="t" style="font-size:16.5px">0</text>
<text transform="translate(37.00,215.88) scale(0.93,1.03)" text-anchor="end" class="t" style="font-size:16.5px">.<tspan dx="1.5">2</tspan></text>
<text transform="translate(37.00,165.56) scale(0.93,1.03)" text-anchor="end" class="t" style="font-size:16.5px">.<tspan dx="1.5">4</tspan></text>
<text transform="translate(37.00,115.24) scale(0.93,1.03)" text-anchor="end" class="t" style="font-size:16.5px">.<tspan dx="1.5">6</tspan></text>
<text transform="translate(37.00,64.92) scale(0.93,1.03)" text-anchor="end" class="t" style="font-size:16.5px">.<tspan dx="1.5">8</tspan></text>
<text transform="translate(37.00,14.60) scale(0.93,1.03)" text-anchor="end" class="t" style="font-size:16.5px"> </text>
<path transform="translate(28.47,14.60) scale(0.00749,-0.00830)" d="M583 0V1110L223 900V1070L640 1430H763V0Z" fill="#222"/>
<text transform="translate(53.50,292.30) scale(0.93,1.03)" text-anchor="middle" class="t" style="font-size:16.5px">0</text>
<text transform="translate(91.58,292.30) scale(0.93,1.03)" text-anchor="middle" class="t" style="font-size:16.5px">2</text>
<text transform="translate(129.66,292.30) scale(0.93,1.03)" text-anchor="middle" class="t" style="font-size:16.5px">4</text>
<text transform="translate(167.74,292.30) scale(0.93,1.03)" text-anchor="middle" class="t" style="font-size:16.5px">6</text>
<text transform="translate(205.82,292.30) scale(0.93,1.03)" text-anchor="middle" class="t" style="font-size:16.5px">8</text>
<text transform="translate(243.90,292.30) scale(0.93,1.03)" text-anchor="middle" class="t" style="font-size:16.5px"> 0</text>
<path transform="translate(235.37,292.30) scale(0.00749,-0.00830)" d="M583 0V1110L223 900V1070L640 1430H763V0Z" fill="#222"/>
<text transform="translate(281.98,292.30) scale(0.93,1.03)" text-anchor="middle" class="t" style="font-size:16.5px"> 2</text>
<path transform="translate(273.45,292.30) scale(0.00749,-0.00830)" d="M583 0V1110L223 900V1070L640 1430H763V0Z" fill="#222"/>
<text transform="translate(320.06,292.30) scale(0.93,1.03)" text-anchor="middle" class="t" style="font-size:16.5px"> 4</text>
<path transform="translate(311.53,292.30) scale(0.00749,-0.00830)" d="M583 0V1110L223 900V1070L640 1430H763V0Z" fill="#222"/>
<text transform="translate(358.14,292.30) scale(0.93,1.03)" text-anchor="middle" class="t" style="font-size:16.5px"> 6</text>
<path transform="translate(349.61,292.30) scale(0.00749,-0.00830)" d="M583 0V1110L223 900V1070L640 1430H763V0Z" fill="#222"/>
<text transform="translate(396.22,292.30) scale(0.93,1.03)" text-anchor="middle" class="t" style="font-size:16.5px"> 8</text>
<path transform="translate(387.69,292.30) scale(0.00749,-0.00830)" d="M583 0V1110L223 900V1070L640 1430H763V0Z" fill="#222"/>
<text transform="translate(434.30,292.30) scale(0.93,1.03)" text-anchor="middle" class="t" style="font-size:16.5px">20</text>
<text transform="translate(472.38,292.30) scale(0.93,1.03)" text-anchor="middle" class="t" style="font-size:16.5px">22</text>
<text transform="translate(510.46,292.30) scale(0.93,1.03)" text-anchor="middle" class="t" style="font-size:16.5px">24</text>
<text x="282" y="314.2" text-anchor="middle" class="t" style="font-size:16.8px">Years</text>
<text transform="translate(12.8,134) rotate(-90)" text-anchor="middle" class="t" style="font-size:16.6px">Probability</text>
<rect x="44.5" y="324.5" width="464" height="45" fill="#ffffff" stroke="#505050" stroke-width="1"/>
<rect x="49.5" y="331" width="41" height="14" fill="#e0e6ef"/>
<line x1="49.5" y1="357" x2="90.5" y2="357" stroke="#22374f" stroke-width="1.4"/>
<text x="96.8" y="342.2" class="t" style="font-size:11.6px">95% CI</text>
<text x="97" y="362.5" class="t" style="font-size:13.8px">Low</text>
<rect x="144.5" y="331" width="41" height="14" fill="#f6e3e5"/>
<line x1="144.5" y1="357" x2="185.5" y2="357" stroke="#87384a" stroke-width="1.4"/>
<text x="192.3" y="342.2" class="t" style="font-size:11.6px">95% CI</text>
<text x="192.5" y="362.5" class="t" style="font-size:13.8px">Intermediate  </text>
<path transform="translate(273.04,362.50) scale(0.00674,-0.00674)" d="M583 0V1110L223 900V1070L640 1430H763V0Z" fill="#222"/>
<rect x="284.5" y="331" width="41" height="14" fill="#e5ebdf"/>
<line x1="284.5" y1="357" x2="325.5" y2="357" stroke="#4f6b33" stroke-width="1.4"/>
<text x="331.8" y="342.2" class="t" style="font-size:11.6px">95% CI</text>
<text x="332" y="362.5" class="t" style="font-size:13.8px">Intermediate 2</text>
<rect x="424.5" y="331" width="41" height="14" fill="#fdecd8"/>
<line x1="424.5" y1="357" x2="465.5" y2="357" stroke="#e08a30" stroke-width="1.4"/>
<text x="471.3" y="342.2" class="t" style="font-size:11.6px">95% CI</text>
<text x="471.5" y="362.5" class="t" style="font-size:13.8px">High</text>
</g>
</svg>
</body></html>
